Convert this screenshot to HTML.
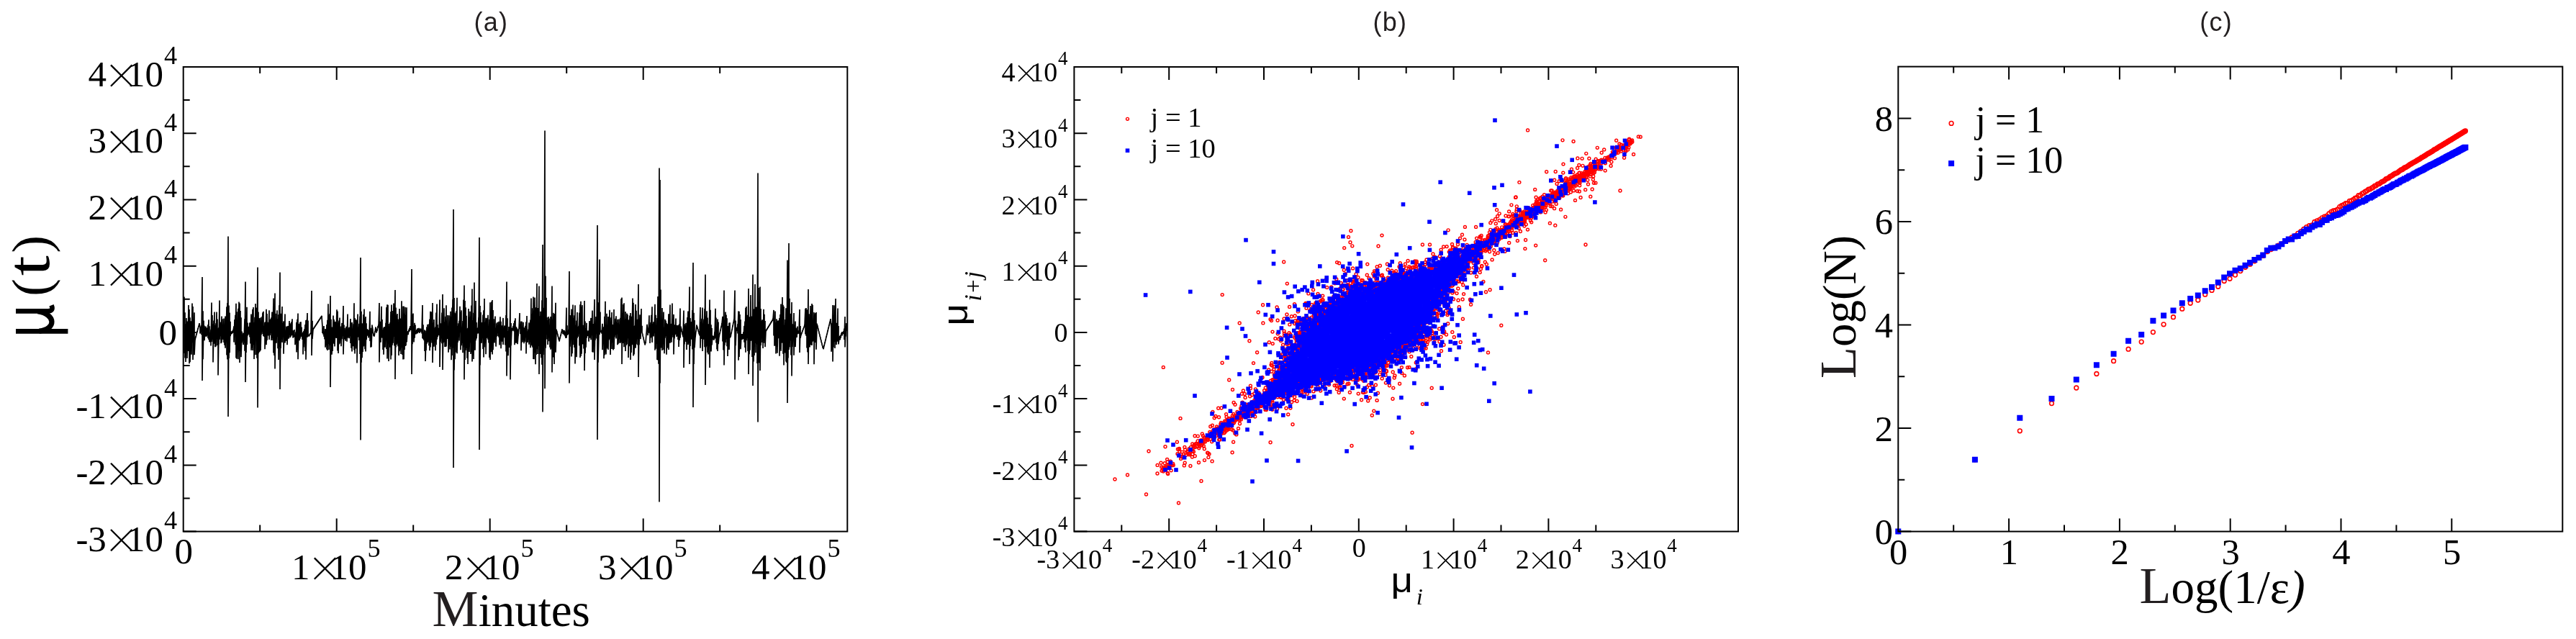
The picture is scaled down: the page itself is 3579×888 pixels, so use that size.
<!DOCTYPE html>
<html><head><meta charset="utf-8"><title>figure</title>
<style>html,body{margin:0;padding:0;background:#fff}svg{display:block;will-change:transform}text{font-family:"Liberation Serif", serif;fill:#000}.s{font-family:"Liberation Sans", sans-serif}</style>
</head><body>
<svg width="3579" height="888" viewBox="0 0 3579 888">
<rect width="3579" height="888" fill="#fff"/>
<text class="s" x="682.4" y="43.4" font-size="36" text-anchor="middle" letter-spacing="1.2" style="fill:#231f20">(a)</text>
<text class="s" x="1931.4" y="43.4" font-size="36" text-anchor="middle" letter-spacing="1.2" style="fill:#231f20">(b)</text>
<text class="s" x="3079.1" y="43.4" font-size="36" text-anchor="middle" letter-spacing="1.2" style="fill:#231f20">(c)</text>
<path d="M256 461.9L256 412.5V491.1L257 434.3V497.5L258 450.3V503.1L259 442V481.7L260 446.4V498L261 451.4V486.8L262 424V488L263 430V505.2L264 441.3V503.3L265 446.3V487.7L266 449.8V492.8L267 421.5V475.8L268 426V500L269 451.9V472.6L270 434.3V493.3L271 471.4V472.6L272 467.7V468.9L273 464V465.2L274 460.2V461.5L275 456.5V457.7L276 452.8V454L277 449.1V450.3L278 454.7V463.6L279 454V459.9L280 452V465.3L281 385V529L282 432.3V499.2L283 445.5V468.8L284 452.4V473.2L285 455.1V465.1L286 453.6V467.6L287 455.7V467.7L288 455.5V465.9L289 451.3V470.1L290 444.3V472.1L291 453.3V475.3L292 466.6V475.4L293 457.7V480.6L294 420.4V474.9L295 437.9V472.1L296 450.2V503.4L297 445.4V475.1L298 433.6V477.7L299 451.9V482.2L300 449.2V481.5L301 433.6V471.4L302 443.5V479.9L303 456.2V521.5L304 455V478.6L305 417.5V472L306 447.6V467.3L307 454.1V477.3L308 439.6V475.9L309 443.2V470.8L310 451.6V472.2L311 442.6V476L312 458.4V479.7L313 439.4V483.7L314 454V472.9L315 426.3V493.5L316 420.9V499.5L317 328.5V579L318 424.6V498.1L319 434.5V490.3L320 446.7V467.2L321 460.2V464.2L322 462.4V464.1L323 459.7V462.7L324 458.8V460.3L325 453.3V475.6L326 444V466.7L327 437.7V479.3L328 421.7V497.6L329 433.2V498.7L330 450.6V485.6L331 428.7V499.2L332 419.5V488.1L333 421.5V504.1L334 431.9V487.8L335 441.3V496.2L336 460.6V476.3L337 465.1V471.5L338 462.7V479.1L339 465.1V475.8L340 443.3V487.8L341 391.5V531L342 439.3V490L343 426.8V478.9L344 448.6V466.4L345 454.1V463.2L346 453.9V465.3L347 448.3V468.4L348 454.4V477.5L349 436.4V486.7L350 439.5V483.6L351 429.7V486.9L352 427V479.1L353 448.1V498.9L354 440.7V493.3L355 422.1V471.4L356 427.5V492.9L357 428.5V497.7L358 371.5V566.5L359 433.6V491.2L360 442V489.4L361 442.7V488.6L362 441.3V487L363 446.7V465.2L364 440.1V461.1L365 434.2V464.2L366 432.7V466.9L367 455.2V468L368 447.8V485.3L369 447.3V470.5L370 429.8V479.2L371 435.9V472.9L372 447.8V463.3L373 450.2V466.5L374 431.3V472L375 444.6V466L376 443.4V463.1L377 441.2V473L378 433.6V470.1L379 450.7V473.1L380 414.6V490.4L381 433V493.9L382 407.5V512.5L383 435.8V477L384 449.2V476.7L385 431.3V468.2L386 443.3V484.2L387 437V500.1L388 424.3V482.2L389 378.5V541L390 435.8V484.1L391 437.5V459.2L392 426.1V475.9L393 448.8V467.9L394 446.4V491.7L395 452V469.9L396 436.4V476.4L397 461.8V474L398 453.6V473.1L399 454V479.2L400 452.9V468.9L401 453.5V470.7L402 446.1V465.8L403 449.3V469.2L404 451.3V467.8L405 447.3V466.1L406 443.3V465.8L407 459V469.5L408 462.9V466.4L409 458.1V468.8L410 464.8V479.2L411 461.2V477.1L412 447.7V489.4L413 443.7V486L414 435.5V499.3L415 449.7V468.9L416 451V473.3L417 447.5V470.6L418 447.2V467L419 454.4V468.2L420 463.3V471.9L421 461.7V492.5L422 459.7V482.4L423 457.3V477.4L424 451V488.1L425 445.1V499.8L426 444.4V464.9L427 435.1V468.8L428 445.4V466.7L429 466.4V467.6L430 464.9V466.1L431 463.3V464.5L432 461.8V463L433 404V494L434 445.7V470.9L435 457.2V458.4L436 455.6V456.8L437 454.1V455.3L438 452.5V453.7L439 451V452.2L440 449.5V450.7L441 447.9V449.1L442 446.4V447.6L443 444.8V446L444 443.3V444.5L445 441.8V443L446 440.2V441.4L447 438.7V439.9L448 454.9V463L449 457.3V464.8L450 453.1V467.7L451 463.1V471.5L452 457V482.8L453 459.8V480L454 451.1V485.6L455 444.8V487.1L456 422.2V478L457 437.9V486.1L458 436V479.7L459 411V538L460 443.8V492L461 454.6V492.7L462 459.7V488.1L463 438.4V475.6L464 444.1V477.7L465 446.8V481.6L466 447.3V469L467 448.7V469.7L468 430.2V469.9L469 432.6V487.5L470 448.2V491.1L471 445.4V478.5L472 441.4V477.4L473 453.6V472.6L474 462.7V481.3L475 448.9V471.3L476 450.9V467.2L477 425V492.5L478 451.6V470.5L479 456V471.4L480 463.3V473.7L481 453.7V469.4L482 457.4V474.7L483 436.6V469.8L484 456.6V468.3L485 454.7V470.2L486 457.6V467L487 443V477L488 448.6V483.7L489 448.1V488.5L490 458.9V473.2L491 450.4V481.3L492 421.3V486.4L493 442V491.5L494 444.1V466.6L495 444.2V484.4L496 446.3V504.5L497 436.5V468.7L498 456V468.3L499 449.9V473L500 439.6V492L501 358V611.5L502 432.8V503.8L503 449.2V497.2L504 450.1V488.9L505 437V481.4L506 429.5V480.4L507 442.2V485.3L508 440V488.6L509 449.3V472.1L510 456.9V466.7L511 458.1V466.3L512 459.1V469.4L513 458.5V467.5L514 432.7V474.1L515 455.7V482.7L516 462.5V482.1L517 451.4V452.6L518 458.6V459.8L519 465.8V467L520 466.4V467.6L521 460.4V461.6L522 454.4V455.6L523 459.3V462.5L524 456.9V460.1L525 453.4V455.5L526 451.2V454.9L527 421V503.5L528 446.8V473.6L529 447.7V475.8L530 425.7V468.7L531 444V469.7L532 458.3V486L533 455.2V492.7L534 453.9V473.2L535 455.2V482.8L536 448.8V467.3L537 427V484.9L538 423.2V498.4L539 423.7V474.8L540 450V502.1L541 456.6V468.5L542 448.2V482.8L543 433.1V499.4L544 423.5V493.9L545 432.1V479.7L546 437V476.8L547 421.6V467.9L548 433.2V480.4L549 403V527L550 427.5V482.6L551 438.2V479L552 436.1V477.3L553 443.4V481.3L554 448.3V494L555 429V488.2L556 442.6V485.9L557 450.8V492L558 418.2V483.3L559 443.8V493.1L560 425.4V499.6L561 425.6V499.3L562 435.7V485.9L563 426.7V480.9L564 437.8V480.3L565 427.3V475.5L566 460.8V464.9L567 460.3V465.1L568 458.1V460.4L569 455.7V460.7L570 453V456.6L571 454.2V458.9L572 374V520L573 437.3V478.2L574 435.4V470.3L575 453.3V475.5L576 448.8V469.7L577 451.4V462.8L578 461.4V464.3L579 458.2V462.9L580 456.5V463.5L581 456.4V460.8L582 455.8V462L583 457.3V462.8L584 456.5V459.3L585 456.8V461.2L586 458.5V463.6L587 424V470.3L588 451.3V471.3L589 463.9V472.9L590 458.4V488L591 459.5V501.9L592 465.2V486.9L593 454.2V477.8L594 450.7V475.9L595 459.9V474.4L596 450.3V480.2L597 443.5V487.2L598 432.8V482.6L599 433.3V473L600 445.1V476.4L601 421V504L602 448.4V478.8L603 443.9V481.6L604 456.1V465.8L605 454.4V487.2L606 434.4V479.3L607 422.5V471.7L608 450.9V468.3L609 455.7V461.3L610 461.2V466.3L611 416.5V510L612 449.2V475.4L613 456.7V464.4L614 434.6V477.2L615 409V514L616 443.4V476.5L617 428.3V475.2L618 447.2V482L619 439.8V482L620 424.3V481.6L621 445.7V468.4L622 438.1V471.1L623 457.6V489.8L624 438.2V479.1L625 447.5V485.4L626 432.8V481.8L627 440.1V500.2L628 427.5V494L629 415.9V483.5L630 291V650L631 414.1V514.6L632 434.5V499.2L633 436.3V471.5L634 432.3V489.7L635 413.7V491.3L636 453V475.7L637 449.4V458.7L638 445.9V473.4L639 425.8V462L640 433.9V486.3L641 431.3V480.3L642 456.2V476.9L643 446V490.3L644 416.5V482.5L645 396.5V527.5L646 417.9V500L647 427.3V487L648 438.7V484L649 456.4V497.8L650 455.8V505.9L651 429V478.2L652 440.8V489L653 432.7V476.2L654 439.8V492.1L655 424.4V489.6L656 401.5V502.5L657 445V494L658 434.8V499L659 392.5V486.2L660 442.5V486.8L661 418.1V473.3L662 447.9V470.4L663 455.7V463.7L664 455.7V463.3L665 440.7V463.6L666 330V625L667 425V507.6L668 433.9V477L669 448.1V476.7L670 451.1V466.8L671 437.5V485L672 431.2V496.5L673 415V482.6L674 447.4V476.3L675 441.8V492.3L676 443.2V469.9L677 441.7V469.3L678 437.7V471.8L679 453.1V476.4L680 443.8V496.9L681 420.3V500L682 440.6V482.1L683 419V489.2L684 417V492.5L685 431.1V486.2L686 443.3V474L687 452.8V476.5L688 439.6V471.8L689 455.5V481.6L690 449.2V467.6L691 447.7V462.9L692 455.3V467.1L693 446.8V468.7L694 457.6V479.5L695 440.2V474.2L696 446.7V484.3L697 452.2V465.7L698 452.9V474.6L699 441.9V479L700 456.5V463.3L701 452.4V469.1L702 456.5V479.5L703 437.9V488.5L704 391.5V522.5L705 442.2V484.1L706 460V494.2L707 454V469.5L708 454.9V483L709 416.5V527.5L710 448.9V480.3L711 455.7V460.2L712 455.6V459.6L713 453.1V458.6L714 449.2V460.4L715 445.6V479.2L716 442.3V476.1L717 453.9V476.9L718 455.5V475.2L719 457.3V478.3L720 465.6V466.8L721 456.1V457.3L722 435V456.5L723 454.4V464.3L724 446.5V487.3L725 446.8V475.9L726 456.7V472.3L727 447.8V475.2L728 454.9V477.2L729 456V475L730 452.9V467.3L731 447.2V491.5L732 439V470.3L733 460.3V475.9L734 457.6V472.2L735 448.3V478.8L736 451.2V475.6L737 444.6V483.3L738 414.6V478.9L739 436.4V480.4L740 428.2V482.7L741 412.6V498.9L742 431.5V499.3L743 413.4V490.2L744 427.3V506.3L745 431.6V492.9L746 394V484.7L747 428.1V491.9L748 437V481L749 397.5V520L750 439.3V482.1L751 432.8V492L752 439.9V497.3L753 417.3V506.8L754 340V572.5L755 427.8V492.9L756 445.7V459.7L757 181.5V540L758 383.4V483.8L759 413.7V464.7L760 441V471.6L761 444.9V479L762 439.9V469.4L763 442.5V474.3L764 455.5V482.7L765 440V485.8L766 440.6V484.4L767 397.5V517.5L768 443.9V477.5L769 434.8V496.6L770 436.1V506.1L771 436.2V475.9L772 420.8V489.7L773 457.4V458.6L774 461.4V462.6L775 465.4V466.6L776 469.4V470.6L777 473.4V474.6L778 469.4V470.6L779 465.3V466.5L780 461.3V462.5L781 457.2V458.4L782 459.1V464.2L783 458.8V464.5L784 459.1V465.7L785 460.6V466.4L786 468V469.9L787 427.5V469.8L788 452.3V465.9L789 460.1V465L790 457.5V464.2L791 377V532.5L792 438.1V481.7L793 447.6V468.9L794 429.5V495.4L795 435.1V491.2L796 423.6V469.9L797 441.8V479.2L798 438.3V482.9L799 424.3V505.4L800 451.4V482.8L801 445.4V496.3L802 434V469.9L803 454.1V468L804 452.8V463.4L805 434.6V480.6L806 423.2V497.1L807 418.7V495.1L808 426.4V491.8L809 424.1V478L810 451.7V478.6L811 461.1V484.6L812 418V515L813 446.4V491L814 456.1V482.7L815 448.7V469.7L816 459.3V467L817 460.8V466.7L818 459.3V474.6L819 446V469.6L820 454V469.5L821 441.9V472.2L822 442.5V466.2L823 431.5V489.2L824 449.9V489.8L825 453V462.4L826 416V500L827 449.1V472.6L828 440V463.7L829 445.9V470.5L830 313V611L831 420.2V503.7L832 461.1V465.9L833 360.5V465L834 433.5V461.4L835 459.5V462.3L836 459.1V463.8L837 449.8V486.3L838 455.6V471.7L839 454.1V498.3L840 439.7V493.6L841 418.8V489.8L842 451V492.5L843 435.8V482.7L844 451.7V484.4L845 440.1V486.1L846 446.8V472.5L847 430.7V470.8L848 441.2V492.9L849 447.6V484.9L850 434.1V476.3L851 451.1V485L852 456.1V486.4L853 430V485L854 449.5V468.4L855 442.8V465.5L856 439.3V470.5L857 447.4V462.7L858 443.7V479.3L859 448.9V477.6L860 443.6V471.3L861 453.8V476.7L862 441.7V476.8L863 415.3V475.3L864 413.5V506L865 435V474.3L866 423V477L867 421.3V482.3L868 451.3V474.9L869 433V488.1L870 442.9V479.9L871 435.4V478.4L872 437.3V470.1L873 444.2V497L874 445.3V476.5L875 438.4V481.2L876 435V500L877 439.8V490.1L878 446.5V464.5L879 414.4V479.2L880 420.8V494.5L881 452.9V492.6L882 452.2V470L883 422.9V483.8L884 431.8V478.5L885 443.7V471.1L886 450.3V479.6L887 395V524L888 443.2V479.3L889 437.3V466.5L890 443.8V471.3L891 429V457.8L892 452.7V462.1L893 465.2V466.4L894 469.5V470.7L895 473.9V475.1L896 478.2V479.4L897 475.8V477L898 463.3V464.5L899 450.8V452L900 460.9V466.1L901 457.5V462.2L902 438.2V462.7L903 451.3V476.9L904 448.1V469.4L905 437.8V468.5L906 426.3V475.9L907 449.9V466.4L908 447.3V467.5L909 447.3V463L910 422.7V486.7L911 437.7V484.8L912 452V477.9L913 441.9V499.9L914 412V500.6L915 431.4V505.7L916 233.5V697.5L917 250V532.5L918 402.6V481.7L919 444.9V483.4L920 428.1V487L921 454.8V470.6L922 433.6V485.9L923 455.3V491.2L924 443.8V469.8L925 445.5V467.1L926 448.7V492.8L927 450.3V483.8L928 460.9V482.8L929 436.3V485.9L930 450V468.7L931 423.6V476.7L932 450V471.4L933 449.7V475.7L934 421.5V465.6L935 450.6V468.7L936 436.9V492.5L937 451.3V470.5L938 451.8V465.2L939 442.5V464.3L940 452.1V467.9L941 452.1V467.1L942 452.5V472.1L943 451.6V482L944 450.3V473.1L945 428.5V469.8L946 453.6V454.9L947 458.1V459.4L948 462.6V463.9L949 467.1V468.4L950 431.5V511L951 450.2V478.5L952 452.7V472.1L953 448.7V475.1L954 456.1V486L955 440.9V473.5L956 432.4V478.9L957 455V477L958 398.5V506.1L959 441.9V481L960 447V468.8L961 453.4V471.7L962 431V485.6L963 365V566L964 434.8V505.9L965 445V483.1L966 467.8V469L967 459.6V460.8L968 451.4V452.6L969 454.9V456.1L970 458.4V459.6L971 461.9V463.1L972 465.4V466.6L973 427V483.7L974 448.3V465.4L975 442.8V471L976 427.5V487.9L977 450.8V465.6L978 443.5V471.8L979 428.9V482.3L980 381.5V535L981 439.4V482.4L982 432.3V480.8L983 441.4V490.1L984 450.3V492.6L985 450.2V473.3L986 416.5V511L987 430.8V475.7L988 451.3V488.4L989 455.9V479.5L990 466.2V469.8L991 466.9V471.9L992 469.4V472.7L993 460.8V470.7L994 428.7V469.6L995 441.4V476.4L996 454.1V485.4L997 443.4V488L998 447.4V478.2L999 467.4V468.6L1000 462.9V464.1L1001 458.4V459.6L1002 453.9V455.1L1003 449.4V450.6L1004 439.8V474.6L1005 446.4V486.5L1006 403.5V507.5L1007 445.6V479.8L1008 433.4V476.1L1009 437.5V471.4L1010 442.3V481.2L1011 452.9V495L1012 452.9V481.9L1013 448.5V485.9L1014 448.2V469.3L1015 467.4V468.6L1016 462.5V463.7L1017 457.6V458.8L1018 452.7V453.9L1019 447.8V449L1020 442.8V444L1021 403.5V527.5L1022 445.6V480.3L1023 455.1V458.9L1024 456.4V460.2L1025 450.4V463.5L1026 432.4V500.8L1027 432.8V496L1028 437.1V481.2L1029 443.9V485.3L1030 464.1V470.3L1031 464.1V471.9L1032 466.8V470.8L1033 461.3V471.3L1034 452.9V475.8L1035 446.5V482.9L1036 427.8V489.7L1037 425.9V473.3L1038 437.8V470.1L1039 446.8V487.9L1040 401V520L1041 440.2V492.2L1042 450.9V486.8L1043 410V473.9L1044 439.5V472.9L1045 449.5V495.9L1046 381.5V536L1047 429.8V502.6L1048 429.2V493.9L1049 395V477.1L1050 426.9V490.2L1051 426.4V478.6L1052 439V505L1053 240.5V586.5L1054 399.9V496.8L1055 419.7V504.2L1056 398.5V515L1057 429V480L1058 446V467.7L1059 444.3V476L1060 447.1V484L1061 429.7V473.5L1062 436.8V476.7L1063 446V482.1L1064 459.6V460.8L1065 457.9V459.1L1066 456.3V457.5L1067 454.6V455.8L1068 453V454.2L1069 451.3V452.5L1070 449.7V450.9L1071 448V449.2L1072 446.4V447.6L1073 444.7V445.9L1074 443.1V444.3L1075 430.9V466.4L1076 450.5V480.8L1077 432.5V480.4L1078 448.1V491.5L1079 443.3V482L1080 445.5V490.7L1081 445.4V468.7L1082 445.3V470.1L1083 442V494.7L1084 436.9V484.8L1085 422.5V487.7L1086 431.7V476.8L1087 413V476.2L1088 423.7V491.8L1089 426V507.5L1090 451.5V486.4L1091 444V490.6L1092 428.3V502.4L1093 431.9V503.9L1094 361.5V560L1095 433.8V497.5L1096 338V486.1L1097 414.8V482.6L1098 435.7V473.4L1099 452.2V493.6L1100 420V522.5L1101 450.2V482L1102 451.8V465.9L1103 435V493.8L1104 452V469.9L1105 446.5V482.1L1106 455.4V465.1L1107 458V469L1108 453.5V464.1L1109 459.2V461.5L1110 460.3V464.1L1111 430V490L1112 453V469.8L1113 464.7V465.9L1114 462.1V463.3L1115 459.4V460.6L1116 456.7V457.9L1117 454.1V455.3L1118 451.4V452.6L1119 428.9V464.6L1120 428V466.8L1121 430.3V483.5L1122 439.7V489.4L1123 402V506L1124 436.2V480L1125 451.4V482.6L1126 425V478.9L1127 444.9V479.4L1128 422V480L1129 423.7V474.7L1130 451.4V473.8L1131 433.9V506.2L1132 436.5V470.4L1133 435.1V476L1134 433.9V485.8L1135 449.4V450.6L1136 453.4V454.6L1137 457.5V458.7L1138 461.5V462.7L1139 465.5V466.7L1140 469.6V470.8L1141 473.6V474.8L1142 477.6V478.8L1143 481.7V482.9L1144 484.1V485.3L1145 480V481.2L1146 475.9V477.1L1147 471.8V473L1148 467.7V468.9L1149 463.6V464.8L1150 459.5V460.7L1151 455.4V456.6L1152 451.3V452.5L1153 447.2V448.4L1154 443.1V444.3L1155 455.1V488.7L1156 449.2V486.2L1157 423.9V502.5L1158 438.1V482.7L1159 424.2V475L1160 437.9V483.9L1161 415V474.8L1162 448.8V479.1L1163 453.4V474.4L1164 428.4V474.7L1165 452.9V478.5L1166 468.3V471.1L1167 466.7V472.5L1168 465.5V469.7L1169 462.7V465.2L1170 461.3V466.4L1171 461.3V463.4L1172 460.4V464.1L1173 456.6V472.1L1174 440V482.5L1175 455.8V467.7L1176 449.1V459.9" fill="none" stroke="#000" stroke-width="1.7" stroke-linejoin="bevel"/>
<rect x="254.7" y="93" width="922.6" height="645.6" fill="none" stroke="#000" stroke-width="2"/>
<path d="M467.7 738.6v-18M467.7 93v18M680.7 738.6v-18M680.7 93v18M893.7 738.6v-18M893.7 93v18" stroke="#000" stroke-width="2" fill="none"/>
<path d="M361.2 738.6v-9M361.2 93v9M574.2 738.6v-9M574.2 93v9M787.2 738.6v-9M787.2 93v9M1000.2 738.6v-9M1000.2 93v9" stroke="#000" stroke-width="2" fill="none"/>
<path d="M254.7 93h18M254.7 185.2h18M254.7 277.5h18M254.7 369.7h18M254.7 461.9h18M254.7 554.1h18M254.7 646.4h18M254.7 738.6h18" stroke="#000" stroke-width="2" fill="none"/>
<path d="M254.7 139.1h9M254.7 231.3h9M254.7 323.6h9M254.7 415.8h9M254.7 508h9M254.7 600.3h9M254.7 692.5h9" stroke="#000" stroke-width="2" fill="none"/>
<text y="120" font-size="51"><tspan x="122.4">4</tspan><tspan x="175.9">10</tspan><tspan x="227.9" dy="-30.6" font-size="36.2">4</tspan></text>
<path d="M154 90.4l29.4 29.4M154 119.8l29.4 -29.4" stroke="#000" stroke-width="2.3" fill="none"/>
<text y="212.2" font-size="51"><tspan x="122.4">3</tspan><tspan x="175.9">10</tspan><tspan x="227.9" dy="-30.6" font-size="36.2">4</tspan></text>
<path d="M154 182.6l29.4 29.4M154 212l29.4 -29.4" stroke="#000" stroke-width="2.3" fill="none"/>
<text y="304.5" font-size="51"><tspan x="122.4">2</tspan><tspan x="175.9">10</tspan><tspan x="227.9" dy="-30.6" font-size="36.2">4</tspan></text>
<path d="M154 274.9l29.4 29.4M154 304.3l29.4 -29.4" stroke="#000" stroke-width="2.3" fill="none"/>
<text y="396.7" font-size="51"><tspan x="122.4">1</tspan><tspan x="175.9">10</tspan><tspan x="227.9" dy="-30.6" font-size="36.2">4</tspan></text>
<path d="M154 367.1l29.4 29.4M154 396.5l29.4 -29.4" stroke="#000" stroke-width="2.3" fill="none"/>
<text x="246" y="479.2" font-size="51" text-anchor="end">0</text>
<text y="581.1" font-size="51"><tspan x="105.4">-1</tspan><tspan x="175.9">10</tspan><tspan x="227.9" dy="-30.6" font-size="36.2">4</tspan></text>
<path d="M154 551.6l29.4 29.4M154 580.9l29.4 -29.4" stroke="#000" stroke-width="2.3" fill="none"/>
<text y="673.4" font-size="51"><tspan x="105.4">-2</tspan><tspan x="175.9">10</tspan><tspan x="227.9" dy="-30.6" font-size="36.2">4</tspan></text>
<path d="M154 643.8l29.4 29.4M154 673.2l29.4 -29.4" stroke="#000" stroke-width="2.3" fill="none"/>
<text y="765.6" font-size="51"><tspan x="105.4">-3</tspan><tspan x="175.9">10</tspan><tspan x="227.9" dy="-30.6" font-size="36.2">4</tspan></text>
<path d="M154 736l29.4 29.4M154 765.4l29.4 -29.4" stroke="#000" stroke-width="2.3" fill="none"/>
<text x="255.2" y="782.6" font-size="51" text-anchor="middle">0</text>
<text y="805" font-size="51"><tspan x="405.1">1</tspan><tspan x="458.6">10</tspan><tspan x="510.6" dy="-30.6" font-size="36.2">5</tspan></text>
<path d="M436.8 775.4l29.4 29.4M436.8 804.8l29.4 -29.4" stroke="#000" stroke-width="2.3" fill="none"/>
<text y="805" font-size="51"><tspan x="618.1">2</tspan><tspan x="671.6">10</tspan><tspan x="723.6" dy="-30.6" font-size="36.2">5</tspan></text>
<path d="M649.8 775.4l29.4 29.4M649.8 804.8l29.4 -29.4" stroke="#000" stroke-width="2.3" fill="none"/>
<text y="805" font-size="51"><tspan x="831.1">3</tspan><tspan x="884.6">10</tspan><tspan x="936.6" dy="-30.6" font-size="36.2">5</tspan></text>
<path d="M862.8 775.4l29.4 29.4M862.8 804.8l29.4 -29.4" stroke="#000" stroke-width="2.3" fill="none"/>
<text y="805" font-size="51"><tspan x="1044.1">4</tspan><tspan x="1097.6">10</tspan><tspan x="1149.6" dy="-30.6" font-size="36.2">5</tspan></text>
<path d="M1075.8 775.4l29.4 29.4M1075.8 804.8l29.4 -29.4" stroke="#000" stroke-width="2.3" fill="none"/>
<text x="600.6" y="869.7" font-size="72" style="fill:#231f20">M<tspan font-size="65" style="fill:#000">inutes</tspan></text>
<g transform="translate(75.5 463.7) rotate(-90)" fill="none" stroke="#000" stroke-width="6.7"><path d="M3.35 -53.5V18.9"/><path d="M31.35 -53.5V-9Q31.35 -0.5 39.5 -4" stroke-linejoin="round"/><path d="M3.5 -21C6 2.6 27 2.6 31 -23" stroke-width="7.2"/></g>
<g transform="translate(67.8 471) rotate(-90)"><text x="59.3" y="0" font-size="74">(</text><text transform="translate(87.7 0) scale(1.2 1)" font-size="84">t</text><text x="119.3" y="0" font-size="74">)</text></g>
<defs><marker id="mr" markerUnits="userSpaceOnUse" markerWidth="8" markerHeight="8" refX="4" refY="4"><circle cx="4" cy="4" r="1.95" fill="none" stroke="#f00" stroke-width="1.45"/></marker><marker id="mb" markerUnits="userSpaceOnUse" markerWidth="8" markerHeight="8" refX="4" refY="4"><rect x="1.2" y="1.2" width="5.6" height="5.6" fill="#00f"/></marker></defs>
<g transform="translate(1492 93)" fill="none" stroke="none">
<path d="M488.1 303.9L718.7 142.5" stroke="#f00" stroke-width="5" stroke-linecap="round"/>
<path d="M316.7 424.3L213.9 496.2" stroke="#f00" stroke-width="4" stroke-linecap="round"/>
<polyline points="531.1,270.7 546.1,257.7 405.4,411.2 284.5,439.7 245.6,474.4 461.9,299.6 447,389.8 442.3,403.1 475.5,356.5 279.2,430.3 432.1,299.5 402.2,411.2 439.5,294.7 356.2,342.6 451.7,387.8 291.2,436.5 486.4,355.4 471.6,288 379.9,328.6 323,335.2 341,430.6 475,382.6 389.3,417.7 455.6,290.2 283.1,352.3 522.2,288.9 367.2,318 396.7,307.5 380.6,420 424.4,306.3 436.2,281.7 486.1,346.8 468.8,380.5 416.1,406.3 301.1,421.1 286.5,432.9 319.8,382.9 454.4,393.7 311.8,353 328.3,361.5 515.9,299 370.4,428.1 402.6,314.8 439.8,407.2 505.7,336.6 332.5,435.6 413.1,316.6 458.2,296.4 548.3,267.7 440.1,400.6 302.4,396.4 273.1,472.9 396.8,411.9 503.4,284.4 531.6,286.6 338.8,359.7 510.5,394.7 531.7,272.8 522.4,302.3 333.1,346 294.7,423.6 485.4,383 222.1,466.4 471,393.7 350.4,434 296.8,453 491.1,349 400.2,311.9 451.8,384.3 282.3,437.2 448.9,385.3 464.2,370.2 519.3,299.4 355.5,432.5 334.4,356.3 470.3,381.8 392.2,311.7 494.5,324.5 460,382.8 437.5,394.6 508.6,284 492.1,322.2 503.3,333.2 314.4,372.6 469.5,368.2 410.1,423.7 346.8,342 506.9,311.8 477.4,285.9 380.4,303.7 311.8,447.9 484.6,282.2 291.8,437.3 429.6,399.8 562.2,268.8 480,355.7 463.5,296 467.6,358.6 487.8,287.6 423,403 399.9,312 335.9,360.6 455.7,425.6 474,366.6 394.9,292.5 461.6,379.9 369.9,429.8 215.2,503.5 495.7,320.9 335.5,353.9 393.5,413.9 384.1,416.3 466.5,294 459.6,299.4 506.5,318.4 392.1,287.9 409.7,305.1 325.9,314.9 283.1,458.7 334.4,340.9 545.3,281.1 378,322.5 467.1,359.1 524.9,304.2 291.3,447.2 421.4,406.5 424,311.7 532.4,271.2 442.5,396.1 380,440.7 572.5,312.7 406.7,308.6 419.8,294.2 398.3,415.4 461.3,392.9 456.5,393.5 279.9,377.4 385.5,322.5 351.6,346.1 398.8,308.7 309.2,380 463.8,372.8 487.3,283.7 228.5,502.4 312.8,441.8 392.4,434.7 507.6,314 532,287.6 497.5,324.6 562.1,256.6 396.3,421 326.7,361 427.9,402.9 314.5,438.1 406.6,315.9 386.2,321.1 532.4,291 455.7,390.4 339.1,349.2 289,450.1 271.1,468.2 381.9,440.2 575.5,396.9 497.7,338.1 388.1,309.7 514,303 246.6,482.1 504.7,279.8 467.9,376.9 541.9,270.7 365.7,327.7 375.2,421.3 274.1,452.4 515.7,313.9 466.4,286.9 338,362.1 402.6,414.7 356.1,343.8 535.9,271.5 514.7,367.6 298.9,426 307.3,374.2 292.1,367.3 278.9,435.8 391,415.8 405.3,308.2 412.7,408.1 378.8,329.8 308.5,453.7 558,252.1 355.5,427.3 168.1,512.8 341.2,360.4 503.9,349.2 382.6,317.4 274.8,443 454.5,387.3 441.1,391.3 456.6,384.2 421.3,317.4 548.7,261.9 431.8,298.8 364.9,332.4 299.4,420.1 307.6,352.6 331.4,356.7 470.1,508.2 278.3,416.9 530.8,251.9 469.1,376.8 384.3,414.6 399.6,462.7 330.3,348.2 298.8,423.4 272.7,443.2 386.4,313.6 494.8,284.9 322,383.6 406.1,314.2 334.1,348.8 425.9,300.7 527.4,262.2 462,386.3 458.3,292.1 309.1,437.4 527.4,288.4 380.7,418.7 409,303.8 516.6,339 319.2,372.8 402.3,308.7 472.8,382 272.9,463.7 312.6,389.9 516.1,304.6 523.7,269.4 463.8,388.1 444.5,384.8 429.5,406.8 454.9,299 309.3,378.2 489.9,371.4 467.5,279.1 459,298.9 425.7,401.1 362.2,442.8 415.7,302.8 296,417.8 340.6,358 312.3,436.8 392,425.8 294,425.8 419.7,311.2 284.7,377.9 443.7,384.6 442,294.1 386.7,419.9 489.6,362.8 409.7,313 309.3,356 311.7,444.3 295.8,374.4 393.4,411.2 521.8,340.2 328.4,371.5 310.6,400.8 421.2,316.6 407.3,318 477.8,374.8 539.5,265.7 316.9,447.4 430.3,293.4 295.2,415.4 281.9,436 426.3,408.1 320.9,370.8 287.4,429.7 475.2,364.2 284.2,438.5 408.2,317.4 412.9,308.6 348.1,342.1 340.8,343 522.7,292.7 364.8,295 495.2,321.4 472.9,363.8 497,321.6 445.9,302.1 329.7,437.4 540.4,350.3 404.8,416.1 447.8,388.9 322.1,372.8 560.1,279.6 575.4,250.3 320.5,353.8 398,421.2 442.8,402.5 328.8,369.9 403.5,418.3 458.9,397.3 435.2,302.8 429.4,425.7 512.6,300.3 473.7,290.9 501.6,281.4 313.4,400.8 449.9,388 553.4,262.2 538.1,277 431.4,307.3 343.5,357.1 508.2,316 525,294.6 508.2,313.6 496.3,329.5 421.2,277.8 537.6,283 403.7,311.7 386.3,319.4 448.1,290.5 309.2,383.2 401.9,308.4 273.3,447.8 453.3,272.7 315.5,396.5 525.7,297.6 338.8,346.1 540.7,276.3 448,386.4 287.9,455.4 510.7,316.5 522.6,254.8 358,337.4 340,362.3 310,464.5 412.5,418 306.4,395.1 372.7,435.6 339,315.5 343.8,351.8 484.4,247 468.9,293.5 477.4,377.9 399.7,411.7 347.4,434.7 539.3,294.6 310.6,436.3 342.8,362.1 419.7,410.5 356.2,331.9 500.2,317.4 521.3,288.1 353.1,426.9 387,431.1 447.1,299.8 536.6,238.1 564.5,248.7 343.5,359.3 286.8,433.1 316.2,454.9 397.6,311.6 418.4,285.7 489.8,367.4 360.8,319.2 481.1,357.8 271.8,447.2 505.7,274.6 459.4,428.9 476,272 318,363.5 230.2,356 352.7,336.8 488.7,355.6 459.7,287 387.8,312.3 289.4,453.8 551.5,325 314.6,439.7 482.6,356.9 306.7,356.8 475.3,411 289.4,437.7 407.8,274.1 357.2,436.2 312.9,369.6 409,316.6 491,335.3 493.8,278.9 401.1,320.6 409.7,309.1 342.9,435.1 410.1,309.3 524.8,288.6 259.9,471.5 543.4,260.1 491.9,321.9 470.1,365.9 336.4,329.9 230,491.1 509.9,321 384,317.1 414,311.1 314.5,387.8 384.9,227.7 302,413.4 475.5,360.5 490.7,334.7 416.9,419.6 288.1,417.2 299.6,333.4 544.5,269.3 353.3,432.2 319.2,451.4 486,340.4 245.9,470.6 492.1,327.6 277.1,444 368.6,431.8 384,323.4 260,458.7 506.6,309.8 286.3,440.6 431.6,419.1 523.7,294 383.1,432.1 374.3,317.6 552.1,258.1 536,270.5 462.6,375.4 325.9,373.4 385.3,305 452,385.8 469.6,370.1 477.3,365 306.7,458.7 303.3,398.9 391.6,317.7 327.1,359.5 274.1,414.1 504.5,277.2 433.6,415.1 313.2,396.2 494.6,280.5 384.5,418.7 461.9,294.2 445.7,296.5 404.1,301.6 278.9,445.8 498.3,284.2 559,253.5 524.5,343.1 338.2,354.3 387.5,296.2 278.4,427.8 511.2,311.7 494.8,378.7 471.4,361 403.5,300.9 256.2,341 498.4,331.3 470.8,362.1 358,428.7 538.4,289.3 402.6,319.6 476.6,284.9 420.6,414.3 451.8,385.8 256,464.9 560.2,270.7 411.6,410.1 481.4,369.3 416.6,314 364.7,442.8 512.2,297.6 516.8,323 351,343.1 521.3,335.4 492.7,334.2 220.2,492.7 461.5,372.1 508.3,306.3 500.9,322.8 443.8,388.4 482.3,379.2 320.6,440.4 533.5,246.7 501.8,326.4 399.6,420.3 478.5,358.7 428.5,298.7 388.1,300.1 322.2,451.6 314.8,364.8 321.9,373.9 482.6,283.7 540.8,303.1 400.9,414.6 420,422.9 294.2,405.8 458.1,285.3 228.3,489.2 415.5,315.7 318.6,392.5 495.8,350.5 521.6,291.2 327.9,366.1 453.1,279.5 397.7,301.8 492.9,329.4 294.4,425.7 376.4,320.7 311,387.3 512.8,275.3 495,333.5 405.3,320.7 360.6,427.8 402.6,419 341.4,326.6 468.9,377.4 384.2,433.3 312.3,353.5 318,379.4 466,417.4 453.2,389.9 561.4,266.3 397.1,316.9 336,345.7 391.5,314.5 510.9,310.9 296.9,405 546.9,270.7 548,272.5 500.1,337.3 321.9,446.6 317.4,387.5 399.6,296.4 586.6,239.2 376.3,420.7 462.8,292.9 440.2,389.7 433,428.3 394.2,414.9 535.2,291.6 327.3,356.6 509.5,274.4 355.5,342 490.2,368.5 428,234.1 354.7,332 548.6,269.4 323.1,369.2 534.7,270.9 527.9,295.4 292.6,434.2 485.9,354.6 513.4,324.2 428.2,433 337.1,359.4 520.9,302.7 476.9,359.9 540.9,267.5 384.9,427.7 343.3,339.2 296.6,394 342.4,344.3 469.1,358.1 336.4,341.6 428.1,302.6 284.3,450.5 464.3,284.2 272.9,453.1 322.7,368.2 409.7,442.2 417.2,316.2 377.9,324 479.5,285.2 428.4,415.9 263.8,455.3 571.3,271.2 312.7,438.2 380.7,322.2 493.1,326.2 509.9,275.2 419.7,406 315.5,354.8 540.1,323 284.2,452.5 456.9,396.1 486.1,340.6 359.8,424.3 317.3,457 394.3,415.9 345.4,347.8 468.3,371.9 460.1,395.4 315.1,397.3 443.2,424 394.4,427.7 421.1,463.4 509.7,326.2 370.6,332.9 450.3,393.1 404.2,317.6 406.5,415.8 338.9,444.2 282.5,436.7 264.6,449.6 515.1,300.1 368.5,321.4 548.4,265.5 458.3,388.1 318.4,384.9 478.2,372.7 646.2,199.2 500.6,324.4 432.4,413.6 376.8,421.8 303.9,389.1 261,467.9 480,363.8 477.8,289.2 311.4,339.9 544.9,278.3 568.9,298.5 476,373.8 451.1,298 395,317.2 354.7,343.8 453.1,287.1 322.3,329.5 471.3,290.9 449.3,296.7 489.3,334.9 510.2,313.4 413.2,313.1 465.5,375.8 331.3,359 473.5,358.7 406.9,304.3 421.4,410.1 390,416.6 369.7,334 475.4,419.8 331.3,436.7 451.7,381.9 379.2,305.9 411.6,428.2 462.5,297.9 499.4,315.4 327.5,364.9 489.1,391 505.1,284 493,286.7 281,450.3 539.5,233.2 272.6,458.2 280.5,452.8 517.6,268.9 367.4,333.1 273.1,350.7 496.6,319.1 546.1,247.3 466.6,373.8 417.1,291 432.3,404.2 259.6,469.3 322.5,364.8 407.2,312.9 356,430.4 494,327 550.5,323.2 498.2,374.5 375.3,325 475.5,277.8 424.1,406.7 470.5,375.7 349.2,347.5 250.9,453.7 518.1,249.6 497.4,345 493.6,355.8 418,316 538.4,271.9 400.8,419.9 335.9,328 511.1,266.3 410.4,411.9 551.1,255.6 262.6,330.8 276.2,384.6 507.9,381.8 546.9,268.9 401.7,411.5 400.2,417.9 498.9,319.3 296.3,301.1 332.6,309.7 457.1,291.7 379.2,326.3 576.7,245.4 353.5,339.9 498.8,339.4 313.1,441 309.7,373.3 355,340.3 434.8,304.4 345.6,435.2 311.7,377.2 290.4,422.5 380.5,312.8 425.1,427.3 462.8,390.1 435.4,273.9 502.5,278.8 513.3,308.9 497.2,367.5 365.4,447.8 323.3,359.1 423.1,404.8 499.8,282.1 453.2,382.2 477,355.2 460.9,296.3 298.5,449.9 319.1,379.9 376.6,315.6 412,313.2 338.8,334 487.8,271.6 468.7,363.7 542.8,255.1 418.2,416.1 427.3,406.6 539.9,268.5 462.2,369.1 583.2,236 492.3,323.7 417,407.9 462.2,287.3 500.5,332.9 266,476.4 505.5,275.7 313.4,397.6 338.9,342 470.6,386.2 318.8,442.1 419.6,411.8 486.1,371.8 460.6,388 381.1,319.9 505.4,320.1 315.3,382.8 508.9,312.8 493.6,335.2 466.1,395.8 346.1,430.3 458.3,278.6 387.1,318.3 369.2,331.3 573.3,254.2 368.6,272.8 295.9,344 328,434.1 483.5,361.8 502.4,280.6 353.7,339 302.5,386.6 473.3,385 473.2,368.4 449.7,392.8 367.7,330.3 340.4,435.2 285,414.4 485.9,286.1 505,324.8 427.6,307.7 335.9,359 535.3,333.8 487.3,347.3 536.1,271.6 365.2,428.3 547.7,282.1 447.4,301.9 497.2,326.4 338.5,361.6 469.8,361.1 540.8,289 288.2,410.6 242.2,474 299.4,409.6 386.6,422.7 384.3,425.3 308.9,436.7 315,392.3 391.6,433.1 531.1,266.1 408.4,414.3 277.9,419.9 404.5,314.8 388.4,421 290.7,413.6 394.7,435.1 368.8,423.8 296.2,381 397.1,423.4 367.2,335.2 475.7,370.1 431.2,412.3 502.5,324.9 528.3,375.5 538.5,278.7 472.2,366.8 299.8,357.9 470.7,367.2 538.5,288.4 314.2,390.6 288.1,451.6 555.6,256.2 328.3,366.5 544.4,279.4 345.3,433.9 472.3,372.1 367,432.4 428.9,305 521.3,257.1 505.3,281.6 481.4,290.1 417.3,310.9 453.9,400.1 523.8,296.7 465.6,371.4 470.5,363.6 403.1,318.6 407.8,418.9 398.1,315.5 397,309.3 514,386.2 516.5,301 457.9,386.2 508.4,262.9 564.2,285.6 308.5,386.4 381.5,236.4 442.8,292.3 473.2,354.2 282.5,475.2 519.8,342.2 490.5,338.3 285,436.5 374,309.2 252.7,462.9 520.4,305.2 480.8,379.6 453.6,384.4 474.6,357.1 502.2,319.1 343.3,325 315.5,394.2 502.1,326.4 522.1,290 348.8,340.7 495.2,282.6 393.8,442.1 349.5,343.5 513.6,269.8 440.2,304.3 477.5,354.6 299.8,401.1 290.3,457.7 480.8,361.8 473.7,362.7 503,335.8 278.2,455.4 275,471.6 455.2,383.7 389.5,297.9 351.5,347.1 275.6,464.1 471.9,378.4 460.5,273.9 446.3,288.7 419.5,307.4 325.2,366.7 437.3,405 328.8,368.9 296.2,385.4 423.6,408.2 456.3,286.7 468.6,360.8 381.9,423.3 476.6,375.9 395.9,411.3 467.1,372.8 445.2,432 275.3,415.1 478.5,284.3 484.5,468.6 464,383 262.1,458 520.3,313.2 335.3,350.3 292.6,401.3 453.6,292.2 507.1,278.7 546.9,273.3 525.1,292 339.7,432.2 272.5,451.6 347.9,444.5 502.9,369.4 343.6,355 295.4,409.5 306.2,399.4 396,418.2 484.7,279.2 381.8,425.9 495.1,376.5 483.7,384.9 418.6,303.4 393.8,301.1 357.1,428.4 330.4,460 370.2,434.4 332.6,438.1 305.6,444.2 316.8,394.5 416.8,478.1 326.2,374.3 417.2,306.8 451.4,296.7 534.8,265.6 328.1,360 474.1,375.5 488.1,274.6 286.2,411.2 533.8,308 449.5,383.6 371.2,319.6 565.3,237 314.6,369.7 527.7,260.7 443.2,399.3 311.2,396.6 573.9,252.7 424.5,303.8 431.6,410.9 575.6,244.2 308.2,400.5 392.4,420.6 450.6,299.4 516.1,306.1 459.3,384.6 430.7,304.7 346.3,344.1 386.9,415.2 238.1,459.5 520.4,269.9 526.5,250.3 466.7,370.2 453.5,387.8 259,464.9 311.9,402 242.5,469.5 382.5,312.6 337.5,354.5 306.8,389.9 513.8,313.8 382.9,428.1 481.4,284.1 507.8,322.3 325.8,349.1 486.1,379.8 577.5,236.8 288.8,420.1 288.2,459.4 481.8,279.4 519.3,305.4 581.1,267.9 468.2,286.2 180.2,520.7 501.7,273.5 495.2,344.3 419.8,302.5 497,327.4 443.9,300.6 293.7,448.4 562.3,248.5 330.7,330.5 287.9,422.8 469.4,373.3 350.4,341.8 489.3,380.5 421.7,300 295.5,372.2 337.7,357.5 485.8,378.1 431.9,407.4 539,298.9 438,405.7 288.1,435.9 449.3,404.9 402.2,309.6 310.2,439.9 325.4,447 328.5,436.1 289.5,432.5 441.8,283.2 465.8,382.5 340.3,340.7 438.5,442.7 507.9,315.3 350.9,294.7 320.2,449.5 480,376.3 433.1,308.7 530.3,291.1 330,444 444.6,386.6 502.1,315.2 257.9,454.9 498.7,278.9 421.8,313 435.3,415.3 403.3,427.2 346.2,442.1 314.3,449.8 535.5,267.8 310,397.9 362.4,332.5 432.9,297.2 308.2,439.2 461.9,374.9 291.6,429.8 276.2,446.7 463.6,417.8 298.3,384.5 501,283.9 501.6,375.4 471.6,383.6 342.7,450 518.2,294.4 458.2,395 367.2,332.5 426.3,414.7 496.6,318.9 295,474.2 273.4,436.3 573.4,274.3 371.2,300.4 369.4,446 507.9,330.6 442.5,392.8 339.5,344.2 494.5,274.4 279.2,458.6 405,311.5 404.8,299.6 360.4,423.3 290.9,456.4 444.2,388.1 488.2,340.8 491.5,287.1 375.3,461.1 375.3,282.3 393.3,430 341.1,438.5 276.7,472.1 371,431.4 487,342.6 396.4,416.2 566.6,255.7 492.4,320.2 455.1,381.2 298.1,461 299.1,405.6 300.8,371.6 439.2,303.4 286.3,418.5 496.1,331.6 448.2,292.8 326.6,432.7 517.3,307 270.7,420.9 351.6,306.4 346.1,323.9 513.8,318.6 487.2,367.9 455.1,296.2 298.6,445.3 311,361.4 497.7,284.5 500.9,382.5 388.4,320.8 386,414.8 400.3,421.8 365.6,271.6 409.1,314.7 304.5,446.4 465.9,277.6 531.7,297.5 458.8,382.4 374.1,327.1 274.8,454.1 476.1,369.8 298.3,422.7 569.5,244.5 340.5,352.8 537.3,266.3 425.1,303 364.3,434.7 506.5,273.6 435.1,408 304.3,394.7 514.9,317.8 566.7,277.2 329.7,336.1 292.4,370.2 521.7,299 462.7,385.3 476.9,357 490,267.9 377.3,287.6 294.6,402 511.3,307.3 389,307.2 498.6,322.5 554,259.1 322.2,349.2 292.2,405.8 436.8,411.1 373,324 443.2,301.8 486.1,374.9 387,323.3 549.9,256 322.4,439.3 436.4,293 297.8,448.8 402.6,436.2 547.2,279.5 519,344.6 435.7,298 316.7,389.9 471.5,390.9 346.9,336.6 508.5,308.9 392.1,421.9 456.9,294.5 407,428.2 415.8,421 420.4,407.9 537.2,382.4 243.9,380.8 276,368.1 448.3,412.9 593.8,359.2 498,338.3 454.3,299.6 292.9,416 401.2,296.7 394.6,433.3 294,424.6 406.4,423 395.7,424 498,369.8 368.5,325.4 554.7,258 513.7,311.5 515.4,327.2 415.8,317.3 413.8,304.8 481.9,365.7 406.6,419.5 301.2,448 412.8,416 410,300.8 445.7,286.3 373.4,308.9 466.5,288.1 405,428.1 452.6,440.2 506.7,342.1 405.4,451.6 497.8,315.5 401,304.1 505.4,331.6 318,372.4 387.1,423.2 365.2,326.6 227.4,484 489.6,343.9 557.9,247.5 299.2,416.2 356,339.4 306.8,376.2 292.6,452.4 311.2,393.7 266.3,445.9 549.7,265 246.4,485.4 468.8,402.5 470.4,286.4 514,369.7 317.2,391.9 307.9,385.9 285.7,410.2 517.9,271.1 461,389.8 488.6,284.9 526.1,303.7 426.5,404.2 544.4,272.8 533.7,297.9 513.1,302.1 337.8,346.8 360.5,425.9 452.1,277.6 405.8,315.7 494.2,335.7 398,303.9 428.4,289.3 500.1,328.6 306.5,329.7 441.4,394.2 440.1,404.7 391.7,421.2 401.9,415.4 506.7,270.9 372.1,432.7 390.1,412.2 562.7,259 286.9,401 418.6,424.9 412.6,310.5 250.7,463.4 385.1,312 362.7,300.8 300.9,474.1 479.4,287.5 518.3,310.2 206.2,316.6 507.3,282.6 504.9,343.8 482.1,359.1 434.5,402.9 491,284.8 415.5,414.9 388.4,414.8 282,470.4 318.1,369.8 455.4,417.6 473.1,278 488.2,286.7 343.7,350.4 528.1,285.2 513.3,321 555.6,263.6 434.5,423.2 383.5,415 498,326.8 537.2,267.3 249.5,411.6 559.5,291.2 456.1,295.8 301.3,402.6 363,328.5 441.1,395.3 464.1,387.2 299.9,418.3 496.5,339.5 537.7,277.8 503.9,377.5 413.8,410.8 488.7,335.6 367.3,436.2 355.1,337.8 319.8,387.4 237.3,454.4 449.4,293.7 537.2,276.4 340.6,356 305.9,400.5 464.1,269.4 428.5,307.1 302.6,465.7 516.6,325.8 512.3,304.9 561.8,258.6 406.9,320.4 504.6,347.5 209.1,502.9 566.8,276.4 331.6,439.1 310.1,374.5 349.3,346.7 443.3,286.1 497.8,333.5 373.3,303.1 300.7,399 389.5,317.9 388,425.2 498.5,266.2 325.6,441.9 438.4,398.4 343.2,348.8 538.5,282.3 330.8,353.8 321.5,383.4 507.7,363.9 433.4,439.1 436.4,401.5 349.4,336.5 386.8,248.8 281.1,429.8 457.8,298.4 492.6,338.8 356.1,330.6 189,511.7 423.3,405.9 425.2,411.3 583.9,242.2 291.3,450.4 388.4,430.8 490.8,374.7 449,409.1 540.8,257.1 310.9,369.8 371.1,426.9 519.7,297.5 447.6,283.8 387.7,316.3 473.1,356.3 307.1,346 316.1,369 340.7,349.2 407.3,289.3 482.5,389.7 385.2,307.3 474.9,273 296.5,416.6 421.8,314.5 284.5,416.6 339.2,335.1 383.4,452.2 471.1,278.5 501.1,320.5 375.9,444.6 301,410 300.7,424.9 496.4,348.5 446.4,406.2 418.4,305.7 335.3,344.3 375.9,325.3 364,335.9 422,412.8 376.3,425.6 358.5,426.9 473,271.3 506.7,279.5 524.6,255 345,431 186.8,514.9 325.6,443.2 362.8,318.2 226.6,489.6 399.7,433.7 292.2,450.6 313.2,383 366.4,324.1 499.6,328.6 443,461.2 273.4,442.9 387.6,279.9 362.7,423.3 374,426 503.1,274.4 533.4,257 401.6,318.2 539.7,273.4 506.3,327.5 392.2,296.4 330.6,437.2 464.1,373.2 371.9,328.9 458.4,403.3 416.7,317.4 521.4,267.5 384,243.7 300.5,411.9 251.5,468.1 216.7,500.9 423,249 337.5,350.3 324.3,454.3 369.8,444.5 528,294.7 417.4,312.4 338.6,441.1 262.8,469.6 328,338.6 397.9,313.5 329.7,359 369.3,324.4 476.2,270.2 461.6,279.8 313.9,443.2 615.3,198.2 427,290.1 379.6,317.5 563.3,253.1 521.8,295.3 406.8,302.7 304.1,403.7 523.2,298.2 446.4,392 487.2,285.8 369.6,308.3 442.4,389.9 375.7,251.6 332.8,433.1 322.9,380.3 413.2,312.2 479.3,369.8 457.6,381.4 354.5,441.5 434.2,422.2 514.5,271.4 586.8,237.8 291.4,462.6 366.2,424.1 422.6,299.8 370.7,321.3 414.4,421.2 322,328.4 519.7,356.7 369.8,329 425.7,404.3 284.7,421.9 378.7,296.7 485,368.7 344.7,343.6 282.9,453.3 535.3,257.9 479.4,354.8 353,434.2 541.9,271.3 301.4,381.4 408.3,320.6 452.5,289.2 274.5,352.5 283.2,433 318.7,349.5 480.8,378.7 338.6,297.8 527.5,322.8 438.8,302.4 473.8,270 308.7,388.8 494.4,365.4 537.1,255.4 428.4,300.8 390.6,414.5 320.8,351.1 443.8,446.1 362.8,323.8 524.3,299 269.8,443 477.2,274.8 325.6,358.4 240.3,476.5 480,289 425.9,400 480.8,356.9 429.5,407 273.2,455.4 464,377.4 502.7,330 450.1,395.5 502.2,328 342.9,430 249.3,469.7 235.1,472.3 532.4,270.2 312.3,379 501.7,264.1 268.3,463.5 503.2,281.1 291,432 279.6,439.1 491.2,364.7 521.7,304.8 504.7,322.1 302.9,456.6 467.1,367.6 415.5,427.1 376.5,327.7 358.6,328.5 318.2,385.7 328.7,352.9 409.3,301.2 281.4,434.3 478.3,361.1 399.1,413.5 335.3,438.6 515.9,308.9 283.9,433.1 316.3,369.1 311.5,392 332.8,354.8 368.5,438.3 288.5,422.4 195.2,487.7 457.6,388.5 489.9,350.6 334.3,338.3 391.3,430.1 251.4,474.7 425.4,276.2 310.3,390.9 380,302.6 270.5,466.7 432.3,400.1 380.9,416.4 503.5,342.8 391.3,304.4 469.5,365.6 376.4,325.1 564.1,236 511.8,271.9 462.1,290.6 452.9,294.9 546,261.9 534.7,298.3 445.9,428.9 326.7,439.2 561.2,250 589.2,258.6 474.2,377.7 522.4,265.7 341.7,338.2 315.8,352.2 460.7,403.4 299.1,369.8 540.1,286.7 482.5,376.7 456.4,290.8 497.2,281 292.1,350 476.2,288.2 419.4,442 565.4,280.7 482.3,357.4 491,349.1 474.4,288.3 411.2,459.8 460.8,298 375.3,423.4 525.8,368.4 262.9,355.9 497.2,446.2 491.2,286.8 553.1,268.2 437.7,304.3 213.1,490.2 331.5,434.1 527.5,290.3 557.3,264.8 624.9,202 407.1,431.4 387.6,434.4 505.8,318.6 281.8,440.4 501,342.3 467.8,292.4 414.5,310.6 526.2,266.9 567.2,250.5 510,375.3 363.2,331 414.6,443.8 365.6,436.4 469.4,287.4 415.3,308.7 278.6,444.5 438.2,435.3 373.3,438.5 513.7,273.7 301.6,403.1 327.9,370.9 254.6,396.7 326.6,367.6 329.1,363.1 278.9,434.2 417.5,421.6 306.8,402.1 345.2,323.6 451.7,398.9 287.6,380.5 329.8,442.3 463,380.9 241.3,474.8 448.1,300.1 539.6,255.5 341.7,431.4 345.7,318.1 493.3,365.6 286.9,376.3 482.2,368.5 499.3,342.2 391.4,417.2 305.1,407.7 486.9,390.3 510.7,273.8 311,356.8 452.8,295.8 478,366.1 521.1,264.2 450.9,405.5 402.9,452.5 493.9,277 496.4,336.9 397.4,414.7 391.9,316.7 517.5,372 292.5,400.3 451.5,390.2 292.5,373.4 503.2,322.2 375.3,433 252.3,448 470.7,371.9 534,324.2 394.9,425.5 500.1,279.7 319.4,445.7 457.4,398.8 244.6,457.8 394.9,418.4 551.6,286 425.7,421.4 295.7,395.8 518.6,303 429.2,410.3 372.1,326.8 387.2,298.1 236.9,473.9 422.4,453.2 525.5,291 432,401.7 304.4,391.7 384.4,300.4 292.3,392.1 354.2,426.7 428.5,401.4 303.4,402.1 474,367.5 494.5,340.1 475.3,289.1 445.3,391.3 533,265.2 303.4,445.1 492.3,367.3 570.7,251.9 410,293.7 302.4,346.7 354.5,334.4 329.1,356.7 473.5,374.1 490.4,343.7 277.8,452.2 431.3,404 395.2,454.1 314.2,374.4 325.5,438.9 303,405.1 490.6,385.6 361.1,332 285.4,420 553.2,260.5 316.9,441.7 442.9,296.7 541.6,315.6 550.1,262.5 267.2,462.2 491.5,382.3 397.7,430.6 445.4,294.8 458.4,294.4 431.1,399.2 351.4,429.3 559,259.8 357.8,306 491,341.8 445,299.4 276.8,456.1 438.6,394.6 361.3,432.3 210.1,507.3 464.1,383.5 368.2,452.5 401.4,452.2 354.6,328.3 523,268.6 266.6,454 283.3,370.8 449.8,395 329.2,354.5 383.7,321.3 308.9,391.4 300.2,419.7 553.3,263.3 494.2,328 468.2,280.6 492.4,343.8 290.6,386.3 407.3,445 367.3,329 514.6,330.7 440.7,302.6 383.6,418.2 318.5,360.9 480.8,391.1 423.2,302.9 338.6,434.2 565.6,244.4 415.8,287.4 559.6,238.1 520.7,267 344,354.4 274.9,411.5 282.1,334 265,464.6 442.1,294.6 525.9,314.1 335,362.3 380.3,314.1 386,320.9 293.3,411.2 315.5,436.2 529,291 506.2,284.4 375.9,319.8 407.6,411.4 527.4,312.1 310.8,352.2 419.4,421.6 292.9,435.8 495.9,364 339.9,348.5 277,440.1 356.2,336.9 412.4,411.3 276.7,435.1 340.4,434.2 321.1,359.9 414.3,484.3 503.6,318.4 277.9,454 419.5,408 284.8,453.5 325.9,370.5 426.7,400.5 423.1,310.3 400.9,314.7 418.2,299.8 408.7,464.1 485.5,287.8 475.7,280.3 337.5,440 380.4,428.4 489.1,352.9 417.6,283.6 351.2,426.6 476.7,387.1 257.5,466.7 271.3,382.8 344.2,430.3 324.3,363.2 464.5,379.1 340.5,354.3 694.2,163.1 649.2,192.6 635.5,201.4 702.5,154.7 686.3,158.5 700.4,155 584,237.4 565.2,249.7 560.5,254.8 585.9,239.8 542.3,269 621.3,202.7 701.2,152.5 650.7,199 609.2,220.7 624.5,210 664.6,187.2 556.1,257.5 689.2,165.9 721.7,138.9 727.9,135 579.6,240.1 630.5,202 638.5,199.9 594,231.2 718.8,142.6 618.2,224.3 585.9,232.2 613.7,216 570.2,246.3 664.6,193.8 644,188.2 601.2,225.6 630,204.7 615.7,215.4 610.4,220 665.9,181.5 693.8,162.9 634.3,198.7 714.5,163 623.6,207.9 728,140 569,254.8 704.5,157.3 669.4,177.2 643.8,197.4 614.2,222 719.5,143.2 621.9,215.8 575.4,234.9 579.5,238.8 648.6,189.8 702.7,164.8 618.5,214.8 625.1,213.7 568.8,247 676.1,172.5 613,211.9 650.7,194.5 599.4,227.2 579,243 562.5,249.9 708.8,148 689.5,167.5 603,224.3 695.4,160.6 702,147.4 677.8,168 617,214.2 568.2,250.8 646.4,193.2 710.3,145.2 703.1,152.2 557.1,256.4 658,187.4 591.7,233.5 690.9,162 652.1,192.7 595.2,230.3 672,176.2 694.3,157 513.8,326.3 722.4,140.8 610.5,213.3 558.7,255.1 656.4,198.8 663.5,183.3 709.9,152.3 675.3,175.2 698.4,159.2 564.1,254.5 636.2,198.7 705.3,154.1 646.1,191.3 556,254.8 593,229.8 532.6,268.9 695.8,157.2 660.2,186.3 630.8,208 615.6,213.4 653.8,188.2 611.6,207.5 576.8,240.4 628.4,207.7 577.3,242.9 632.3,202.7 564.5,251.1 617.6,208.2 562.1,271.7 673.6,175.4 689.3,162.5 698.3,157.5 721.6,141.6 614.9,200.8 706.1,150.6 596.4,225.8 609.3,216.2 614.6,210.4 717.8,180.2 598.3,225.9 672.2,180.6 589.9,233.7 589.3,232.2 687,168.7 660.1,180.4 587.8,232.5 581.1,235.8 625,215.9 603.9,207.7 678,170.6 724.1,139.1 626.9,205.7 666.1,177.6 661.9,181.4 624,206.2 682.9,208.3 664.9,176.3 711.8,147.3 586.3,217.7 710,149.4 662.7,180.4 616.1,222.2 691.3,163.9 583.9,237.4 553,254.8 690.7,166.4 638.1,195.6 697.4,164.9 570.6,240.3 585.7,235.4 666.8,180 642.6,186.3 608.5,221.1 600.5,228.8 710.7,170.7 627.6,240.5 682.3,164.7 674.3,158.7 623.4,206.1 668.1,180.8 713.2,144.6 711.9,143.4 708.8,153.8 679.7,176.8 659.8,178.3 714.6,145.4 608.6,226.7 596.1,229.1 607.4,222 565.2,243 683.3,156.3 604.1,220.2 656.2,185.6 663.3,177.9 585.8,225.5 601.7,224.4 651.2,186.6 728.5,138.7 590.6,228.1 577.2,243.7 682.1,166.7 673.5,174.5 539,270 645.8,192.7 711.9,149.6 684.6,162.4 583.8,254.7 610.8,217.2 544.7,268.1 699.6,140.5 659.9,185 599.5,229.4 646.2,186.7 609.8,204.4 651.1,180.1 680.7,171 600.2,234.1 513.6,249.9 608.4,217.1 674.1,174.3 595.8,228.2 678.8,178.6 704.6,156 645.3,199 650.2,189.4 702.9,161.3 688,164.6 586.4,233.8 669.2,145.5 724.9,161.2 702.6,160.5 717.2,146.4 585.6,234.5 544.2,259.6 494.5,246.9 619.5,211 591.2,213.4 705.5,147.7 613.9,218.5 622.8,215 622.3,210 641.9,193.6 654.5,195.1 581.1,240.7 606,235.6 724.4,138.5 582.2,230.3 542.9,239.9 692.2,166.5 581,242.3 602.2,223 620,208.9 641,201.9 593.2,236.5 581.8,238.4 655.8,189.4 576.2,237.3 588,235.5 667.4,176 707.1,151.1 579.8,231.9 644.9,197 633.9,199.9 623.2,211.2 696.1,157.2 562.1,243.1 720,136.1 631.6,198.9 712.2,147.7 702.5,147.2 684.5,166.7 576.6,234.4 637.6,199.8 592.9,228.8 697.3,156.6 583.2,240.4 655.8,188.1 620.9,210.8 617.6,211 688,156.5 558.2,243.3 644.1,196 616.4,241.6 590.5,230.8 575,237.4 724.4,136.7 652.4,189.5 574.8,240 678.4,158.3 607.9,191.8 624.6,217.9 629.9,205.2 693.5,159.8 640.1,197.4 625,204 601.3,221 638.2,204.3 604.6,200.9 714.7,142.3 676.6,198.2 688.3,164.6 681.7,168.2 486.8,277.7 719.7,145.5 591.6,232.7 566.1,234.4 547.4,260.6 674.1,171.9 615.3,219.7 642.6,199.7 615.2,212.5 653.1,186.1 681.7,171.8 667.5,186.8 698.4,154.7 617.2,215.4 541.1,266.2 658.2,183.5 661.4,217.2 552.7,252.9 684.1,168 550.5,258.2 651.8,191.9 621.3,212.2 705.9,149.8 676.5,173.1 562.6,251.1 640.7,191.7 701.5,157.3 716,139.8 604.3,222.9 598.6,223.9 715.4,144 717.2,136.5 548.9,260.1 635.7,215.8 627.2,207.1 657.8,183.4 568.7,246.6 561.7,251.3 644.6,194.5 594.7,222.8 707.7,148.3 625.2,211.5 649.9,197.1 635.4,203.2 596.5,228.9 642.2,196.2 729.5,141.8 630.5,226.1 699.1,151.9 527.2,285.1 723.4,146.5 618.2,208 632.6,209.2 726.1,138.2 572.4,243.4 722.4,161.3 618.9,160.4 644.9,184.1 603.2,219.3 678.9,169 648.7,195.1 673.7,172.8 576.7,251.5 588.1,245.1 647.5,182.7 656.3,187.5 720.2,170 551.4,259.9 664.2,178 655.1,202 696.7,162.9 641.2,196.9 671.2,177.8 592.3,233.5 663.7,182.2 626.9,252.6 700.6,160.1 482.8,278.2 604.7,226.1 588.3,236 687.2,156.2 683.6,169.6 723.9,137.1 705.7,151.9 599.3,219.6 724.1,133.4 594.6,226.7 630.9,204.4 650.2,188 634.9,207.4 632.2,207.1 587.8,229.4 678.3,171.4 603.4,225.6 590.8,226.6 666.1,183.5 627.7,202.9 699.2,155.7 683.5,168.9 575.7,248.8 625.5,208 629.6,199.7 656.7,145.7 696,153.7 597.1,232.5 718.9,139.5 662.7,171.9 544.7,255.5 666,180.9 595,254.4 714.2,149.2 694.7,162.6 552,253 611.8,216 571.6,241.6 643.7,190.7 656.6,189.6 702.3,173 618.9,216.7 532,314.6 708.9,155.6 661.4,190.1 660.6,184.9 653.7,183.7 648.8,182 582.4,234.2 726.6,135.1 607.1,220.8 559.5,249.3 671.3,181.9 567.8,244.2 716.8,143.9 662.3,193.6 608.4,223.9 561.9,242.9 639.1,198.8 499,260 673.7,181.2 722.1,143 579.4,242.5 618.3,206.9 549.3,252.2 712.2,140.2 588.9,239.3 611.1,206.7 670.2,190.4 699.5,172.6 541.3,252.1 711.8,120.3 598.8,233.1 580.8,213.8 589.8,226.6 549.9,258.8 510.1,254.1 539.9,261.9 686.2,165.7 674.8,182 678,169.4 717.5,151.9 579.5,245.3 671.9,173.8 664.2,171.9 581.3,244.9 712.5,149.2 634.6,200.8 625.8,200.8 615.3,193.8 571.5,249.3 683.5,171.9 680.1,174.5 642.8,188 560.8,256.4 614.3,230.4 718.5,138.1 643.2,194.5 672,171.8 696.9,160.3 555.2,272.4 578.1,309.7 677.6,176.2 721.4,143.4 541.1,263.4 626.5,214.9 717.8,149.3 651.4,195.9 620.4,228.5 649.9,188.7 591.1,236.6 716.5,142.5 543.4,222.4 706.8,153.2 501.6,276.1 594,226.7 690.8,156 635.8,209.5 654.7,268.7 636.8,201.1 557.9,261.9 579.4,234.8 680,135.1 667.6,196.7 640.7,170.4 654.5,186.1 692.5,157.1 592.1,232.8 668.8,220.2 681.7,165.8 528,256.4 715.1,147.8 656.1,192.9 658.2,179.8 711.5,153.2 654.9,184.6 570.7,247.8 720.1,139.1 604.8,223.4 599.7,222.3 599.4,218.4 694.7,152.2 565.8,258.8 668.7,174.2 723,141.2 616.6,210.2 551.6,330.2 611.8,221.1 714.7,138.6 623.3,203.5 525.5,246.4 635.4,205 599.7,232.7 690.3,174 632.6,203.7 577.5,229.8 617.6,218 588,223.9 702.5,158.2 683.4,160.7 556.9,259 712.9,146.5 579.3,249.4 686.7,175.8 542,286.1 724.8,142.6 584.4,245 567.8,241.1 572,255.7 704.1,181.5 594.8,236.5 552.4,269.5 667.7,157.2 543.7,261.6 671.1,162.4 669.8,175.2 609.8,230.6 637.8,192.5 594.5,237.3 715.9,127.2 608,214.7 537.2,264.4 626.7,204.4 545.9,262.2 601.6,231.2 572.1,247.8 616.9,220.5 655.9,182.9 684.8,160.6 691.5,142.2 604.7,244.5 706.1,127.3 683.6,154.6 694.4,171.9 558.8,258.3 620.9,213.6 609.4,207.2 608.4,212.6 626.5,210.5 606.4,231.7 648.2,193.8 584.6,243.7 641.7,248.1 606.2,223.8 599.5,236.4 567.2,248.8 520.1,226.8 553,255.5 686.3,162.8 660.1,188.8 584.7,260.2 614.1,180.9 541.9,281.3 730.1,138.9 600,206.9 530.2,253.4 606.8,215.3 578.8,216.7 588.6,207.5 638.5,202.2 693.2,154.5 642.1,181.2 541.4,262.9 573.7,249.1 679.2,173.2 716.3,147.1 712.2,152.8 597.9,253 728.1,136.8 713.8,157.2 631.1,209.5 679.8,147.1 625.9,221.1 526.4,251.3 578.8,226.3 631.9,196 548.2,250.3 699.9,126.9 636.1,204.4 604.6,207.7 653.6,177.6 659.2,182.8 544.6,251.8 566.6,246.7 496.1,281.3 693.7,146.3 549.7,279.6 512.2,361.7 700.9,153.7 572.5,245.5 628.2,209.7 694.8,166.6 688.4,169.7 543.4,272.6 677,157.3 604.7,227.5 721.7,151.9 567.4,251.5 720.4,146 577.6,256.8 628.7,202.3 721.4,156.5 707,137.3 613.6,181.4 613.5,214.9 575.2,246.1 686.3,172.1 555.6,279 628.3,218.8 690.9,153.7 515.3,269.2 722.1,147.5 626.6,213 612.2,219.1 654.1,192.9 696.5,185.4 636.7,207.8 538.6,264.7 540.9,280.6 634.4,213.6 684.5,171.2 679.7,179.1 554.5,249.4 578.8,236.5 640.4,200.4 703.7,156.6 725.2,128.1 718.1,134.5 648.3,201.9 559.6,261.3 591.1,239.3 563.2,246.6 619.9,199.9 650.3,184.7 641.3,190.5 558.6,222.4 637.8,197 558.3,266.3 672.6,177.5 701.9,136.4 587.6,198.7 679,101.8 732.4,142 566.7,253 591.2,203.8 640.5,204.4 605,218.2 690,169 696.4,151.7 699.3,150 726.4,141.3 598.8,256.4 585.6,211.5 332.9,450.9 221.1,505 209.6,500.9 254,466.6 238.6,477.5 226.6,487.4 253.9,468.7 231.7,474.5 275.8,446.6 209.3,496.5 199.7,509.5 233.6,482.7 214.6,489.1 268.8,462.2 277.6,449.5 232.3,483.8 236.2,478 270.6,460.2 236.4,479.9 245.4,446.8 240.4,484.7 200.5,505.4 202.9,518.1 215.1,496.4 294.2,422.1 218.2,495.3 213.6,503.2 197.9,503.8 241,478 212.2,499.3 233.9,480.3 206.3,504 285.7,432 220.1,535.7 198.5,500 280.8,438.6 231.1,484.3 223.6,488.9 220.9,489.7 255.1,468.5 225,487.1 241.8,472.4 337,448.4 199.4,502.3 283.4,440.6 216.7,495.5 238.2,475.6 208.8,508.8 192.9,479.4 222.5,494.5 247.5,477.7 274.3,459.5 219,492.6 237,475.7 254.7,462.9 258.7,468.3 267.6,455.9 221.3,495.4 229.7,483.7 250.5,481.7 247.4,473.5 213.8,495.2 248.7,475.3 255.6,463.8 228.6,487.3 242.9,481.8 308.6,445.5 247,465.6 202,502.7 201.1,509.6 276,466.3 265.8,462.4 240.9,479.9 236,480.6 245.4,443.1 225.8,510.9 286.9,458.8 206.8,501.3 217.6,493.9 253.9,471.6 204.6,499.2 198.9,512.4 232.5,476.3 296.8,445.2 231.5,486.8 197,485.4 203,511.9 264.6,458.5 258.2,465.1 220.3,484.9 227,479.4 212.1,486.4 213.9,494.5 232.9,485 252.6,464.2 300.5,446.2 254.6,466.8 204.5,494.5 256.7,452.7 211.6,495.4 230.4,482.2 273.1,521.8 297.7,482.9 270.6,454.4 197.8,506.1 275.7,476.3 231.3,487.9 210.6,500.9 249.4,472.6 247.6,455.7 274.8,455.5 222.4,491.9 205,474 224,469.2 211.6,492.2 276.9,438.6 253.9,470.2 290.1,452.8 260.9,466 250.8,475 241,481.4 250.4,470.2 211.3,498.2 209.6,492.3 201,503.1 245.2,476.2 228.1,485 256.3,458.9 206.4,506.7 280.6,424.7 204.2,503.2 227.2,487 211.6,482.6 212,498.3 199.9,505.4 241.7,485.4 239,487 243.5,478.5 206.8,500.7 269.3,450 230.5,495.7 264.3,456.7 204,496.2 223.4,489.7 314.4,445.4 209.4,504.2 243,475.4 244.1,478.8 224.4,491.6 201.3,512.2 281,453.5 255.6,469.9 272.8,459.9 215.2,493.3 250.4,472.5 276,434.7 251.7,486 303.6,444.8 233.1,487 243.1,479.1 202,503.4 217,491.9 267.5,476.6 307.6,407.3 234.7,483.5 234.1,482.3 295.4,454 200.2,508.3 298.6,458.4 260.7,471 238.3,479.2 256,473.9 275.1,449.6 235.4,450 267.8,451.6 207.8,495 255.2,472.9 203.9,509.2 270.1,442.6 255,478 297.3,463.7 265.1,465 204.3,501.1 219.8,487.9 216,488.4 200.7,474.3 233.7,477.9 233.4,454.2 219.7,493.7 216.7,498.5 249.5,473.6 210.5,502 212.6,505.1 195.2,503.8 201.5,486.8 221.6,521.2 259,461.9 275.7,458 198.8,508.4 248,480.9 274.7,423.2 236,481.6 304,496.7 289.1,399.8 204.3,496.8 219.3,503.7 214.7,491.6 247.1,472.1 239.8,469.1 258.3,459.6 240.5,470.9 202.6,502.7 205.7,509.2 269.7,452.4 270.3,463.3 212.6,502.1 228.1,482.2 223.6,484.7 306.2,463.4 296.4,413.8 262,431.4 257.1,468.3 218.8,490.7 278.9,453.2 232.3,490 215.7,435 199.9,504.8 223.8,509.2 233,470.9 208.5,498.7 239.7,473.4 244.3,473 287.6,454.3 213.7,491.5 234.5,486.1 220.5,448.5 270.1,461.4 225.7,485.7 234.2,466.3 221.8,482.4 206.1,411.2 763,110.4 736.7,114.9 767.1,110.9 772.7,107 762.6,112.2 775.8,104.2 741.2,126 748.3,123.9 760,117.2 727.3,112.3 770.2,107.2 732,131 760.8,112.6 769.3,107 760.2,108.2 764.6,126.2 753.4,112 743.1,127.5 765.9,108.2 768.3,110.7 755.3,114.5 769.7,115 769.6,105.8 748.9,120.1 739.5,129.5 758,107 767.2,112.7 735,131.1 753.9,114.5 760.4,114.2 746.1,123.1 740.8,127.2 771.7,105.7 756.1,119.2 753.7,102.2 735.2,129.3 757.6,116 764,115.2 728,130.7 753.6,119.7 774.1,105.5 730,130.6 754.5,115.5 732.8,134 738.2,144.1 770.1,104.4 754,118.1 736.2,132.5 694.1,103.5 751.5,126.8 743.3,129.3 771.6,100.1 766.8,115.5 777.6,121.5 775.6,101.9 748.4,118.1 743.4,126 746.9,132 748.9,122.9 774,102.9 765.5,111.5 730.5,136.6 759.6,112.5 771,101.1 733.2,119.2 758.6,114.8 738,126.5 767.8,103.6 738.4,133.7 770.8,112 757.4,112.3 746.1,137.5 727.1,131.9 763.3,108.8 732.8,129.2 772.6,106 766.8,117.2 747.8,126.1 743.4,124.8 189.6,516.9 166.4,534.8 143.4,521.2 147,534.8 144,537.8 160.1,530.7 172.1,519.9 168.2,540.7 146.5,530.4 146.2,531.2 181,515.2 179.5,512.7 161.9,554.5 194.9,511.1 173.8,529.8 177.2,518.7 184.7,516.3 174.3,522.4 190.9,513.6 127,527.7 173.4,524.6 164.9,533.9 152.4,538.6 189.8,499.7 166.6,526.3 180.8,521.3 186.9,542.6 181.5,546.6 153.9,528.4 170.1,523.5 150.1,535.1 153.3,553.9 175.7,519.3 180.3,526.7 149.2,541.8 189.9,513.5 192.1,547.9 188.8,507.4 148.6,544.5 169.1,524 181.3,530.7 201.7,517.9 192.4,498.2 178.3,509.9 170.6,527.5 182.8,515.4 197.3,508.3 160.6,538.9 192.8,511.8 192.6,509.3 182.4,520.9 185.6,536.1 168.5,528.6 178.4,523.5 175.3,525.1 160.4,536.7 154.2,550.3 164.9,538.3 185.1,517.7 156,539.2 153.3,542.5 166.8,527.6 157.8,534.7 174.4,527.5 172.3,513.1 191.7,520.8 173.5,549.7 163.6,532.2 192.6,508.9 186.2,518.5 164.7,524 177.9,525.8 151,541 164.4,542.1 162.5,528.4 174,523.5 158.5,535.3 144.4,531.3 155.7,536.6 176,522.9 165.1,530.7 154.6,531.9 148,488.4 167.7,524.9 186.3,536.7 159.8,537.7 188,538 193.2,505.7 177.2,519.5 195.9,506.4 127.7,556.7 137.7,551.4 127.9,555 121,550.2 133.3,555 136.5,553.8 138.2,553.6 135.1,560.7 122.1,561.3 128.3,558.8 116.1,553.4 121.8,556 134.1,553.5 133,552.8 134.2,548.1 130.2,564.4 126.3,550.7 124.2,562.1 126.5,557.6 131.6,552.7 125.9,558 130,556.6 123.9,559.1 124,556.5 130.3,548.9 126.7,560.4 130.7,565.5 129.6,545.4 784.4,96.9 787.2,97.2 630.6,87.9 124.3,417.4 57,573 74.5,567 100.5,594 145.5,606 386,526.5 291.7,271 711,247 759,172 177,575.5 116,565 104,534" marker-start="url(#mr)" marker-mid="url(#mr)" marker-end="url(#mr)"/>
<path d="M292.3 441.3L352.5 376.3L401.7 327.9L461.9 302.4L511.1 288.2L451 353.2L401.7 401.7L341.6 427.2Z" fill="#00f"/>
<polyline points="378.3,370.9 416.1,375 369.9,386.8 400.3,364.9 420.5,350.2 444,346.5 417,359.8 410.8,354.1 393.9,371.6 414.7,360.7 376,381.2 371.9,383.5 416.2,364.4 397.7,383.2 442.6,306.7 415,366.4 403.4,357.3 387,356.8 390,370 395.7,366.8 401.9,374.3 376.8,374.8 400.9,368.8 379.4,368.8 412.2,364.2 426.3,340 412.3,362.2 390.3,368.9 376.5,375.1 421.4,352.4 390,374.5 412.2,368.1 408.4,376.1 403.4,364.5 350.9,410.3 435.6,350.1 386.8,386.8 404.1,370.6 395.7,356 394.8,360.7 425.7,363.1 397.4,396.4 414.5,410.3 417.3,353.5 377.5,378.1 397,377.3 397.6,369.9 391,363.9 355.4,395.7 396.3,365.8 443.6,341.5 375.2,379.7 392.3,365.1 349.9,400.4 429.6,353.5 400.8,378.3 436.8,351.5 401.6,356.8 395,368 422.1,338.2 429.1,345.7 441.3,373.8 432.1,361.5 419.2,347.2 352.7,394.3 336.9,408.1 431.9,371.3 437.9,354.7 392.4,394 387.1,363.3 432.5,347.9 527.2,276.3 407,353 365.5,393.9 451.9,332.1 454.2,319.9 388.8,374.6 406.9,358.9 438.8,342.9 408,373.5 328,392.3 408.8,356 414.2,352.6 410.1,370.2 416.2,347.8 385.4,370.8 413,357.5 401.1,368.1 403.3,375.3 401.4,341.8 399.7,369.3 399.9,361 373.6,378.8 422.6,349.2 429.4,360 413.4,347.6 422.1,353.1 420.8,356.8 417.4,381.6 381.2,383.3 372.6,384.1 397.9,373.5 413.4,349.1 404.4,360.3 408.3,359.4 440.5,357.2 408,368.1 426.8,359.1 412,358.7 418,362.1 403.5,362.5 430,331.6 408.5,361.6 382.1,378.1 388.1,378 364.9,398.1 419.5,374.2 380.7,375.5 417,354.2 397.7,360.3 322.6,409.5 378.8,390.8 406.7,368.2 330.9,418.9 354.8,397 431.8,335.9 361.2,378.3 417.6,349.3 363.8,388.6 429.6,360.1 393.2,373.8 443.4,362.3 407.7,370.1 456.9,352.6 390.2,394.5 402.1,378.3 425.5,336.3 396.3,395.4 413.7,370.6 385.4,386.3 422.2,370.6 375.5,393.8 378.8,364.6 383.9,377.1 380,363.1 410.2,351.6 388.3,367.3 357.3,398.4 392.3,384 381.6,360.8 403,370.4 399.9,359.2 362.3,412 434.7,364.5 375.5,369.9 422.2,347.9 432.5,354.9 407.4,352.9 364.4,367.4 434.4,344.7 373.7,387.3 352.2,383.2 373.9,359.1 389.4,386.7 377.6,386.5 436.8,340.2 392.9,379.4 400.3,375.6 523.1,326.2 381.3,369.2 413.4,374.1 342.9,398.1 385.9,379 415,356.2 407.7,345.6 336.1,413 449.9,339 392.9,358.6 343.8,411.8 469.4,327.2 454.7,343.3 433.1,365.2 406,379.1 374.4,384.3 396.7,359.8 433.4,374.9 379.9,377.6 450.6,349.1 390.5,388.2 391.6,377.3 366.5,390.8 420.1,344.3 379.7,354.4 406.4,350.9 392.6,340.7 371.4,376.6 456.7,320.2 386.4,371.4 406.4,364.9 415.7,365.2 426.6,347.5 425.1,354.7 383.9,321.9 385.3,364 450.9,329.9 402,338.3 437,339.4 361.2,395.9 343.1,404.8 399.9,356.8 432.6,339 400,342.7 408.4,381 364.6,375.5 393.3,404 331.1,389.6 443.7,343.5 378.5,393.7 355.8,385.9 378.2,372.1 367.9,385.6 371.9,362.9 389.2,359.2 416.8,378.3 391.5,378.3 389.4,354.1 375.3,353.7 392.2,356.3 441.5,326 347.1,389.7 436.9,333.3 411.3,341.1 407,364.1 460.1,314.1 390,342.7 441.1,339.5 444.3,326.8 463.5,315.8 394.5,381.9 369.8,373.2 424.9,354.8 414.8,340.6 368.4,375.1 382.9,353.6 367.5,370.8 474.2,311.5 423.9,357.9 472.2,316 406.1,356.6 380.3,373.5 349.7,412.7 356.9,394.5 347,408.2 414.1,388 392.4,376.7 439.9,349.9 464.3,363.5 377.4,383.4 382.9,387.3 475.5,313.8 405.2,346.7 382.7,367 434.8,355.2 426.7,351.9 387.1,381.6 310.7,429.1 410.3,348.9 417.8,341.6 463,348.2 385.7,363 446.2,320.3 430.9,344.7 352.7,404.4 438.7,346.6 430.9,354 363.2,409.4 368.5,369.8 448.8,334.7 368.9,391 373.7,397 491.3,309.5 385.8,383.6 385.8,372.4 480.5,315.8 387.7,391.3 378.7,358.3 373.8,371.8 409.9,389.6 324.5,422.3 455.3,322 364.6,394.3 442,335.5 431.3,322.3 424.8,342.8 434.8,336.2 421.1,360.7 388.6,361.5 486.6,303.6 393.9,351.2 383.3,366.5 337.3,395.6 345.7,387.5 351.8,400.7 358.6,391.5 453.7,329.5 355.7,400.5 355.6,390.1 395.2,345 406.9,377.2 413.2,342.5 399,348.5 407.9,349.4 447.5,327.1 371,387.2 413,381.5 476,313.7 387.9,400.9 412,345.4 390.1,360.2 425.7,344.6 315.3,414.2 431.6,343 409.9,342.8 447.5,354.9 424.1,364.9 353.5,405.6 400.1,353.1 410.9,374.6 463.5,318.1 406.9,381.4 457.3,335 359.5,381.4 419.3,365.6 407.2,381.3 421.8,330.2 382.7,384.5 470.5,324.5 436.9,329.5 481.9,337.4 397.9,388.3 463.1,335.4 416.2,366.7 331.6,402.8 402.6,353.2 386.7,357.3 343.6,401.1 434.5,366.3 395.6,351.8 375.5,368.4 381,391.4 496.9,350.7 421.4,359.4 401.7,335.2 362.2,385.6 348.2,404.2 458.1,325.1 327.5,421 286.5,411.4 338.2,390.9 386.6,378.9 372,363.1 390.8,382.1 429,339.7 349.5,406.4 425,369 376.6,391.7 433.9,327.1 398.3,387.2 450.4,342 396.7,344.1 405.1,373.6 422.6,332.5 423.7,360.8 370.9,382.6 422.2,366.3 487,306.9 415.7,378.1 399.4,372.6 364.7,378.1 507.7,294.7 445.5,336.6 382.6,358.7 346.5,383.4 369,411.9 400.8,347.2 339.3,410.9 386.7,409.9 343.4,395.6 396.5,384.5 444.4,335.3 403.6,393.7 366.6,378.3 376.6,359.2 437.7,383.2 433.2,351.7 349.9,381.2 426.9,361.7 366.6,353.4 344.3,366.3 432.9,319.8 406,344.8 410.7,385.7 359.8,358.1 456.7,329 371,392.1 351,391.9 368.5,393.5 442.6,348.7 364.7,391.4 436.2,369.3 460,327.4 433.8,350 488.9,302.1 366.8,404.9 438.6,327.2 377,388.4 395.6,380.9 462.3,329.7 349.2,397.1 411,343.5 385.6,358.3 435.1,345.8 435.1,332 390.5,345.5 439,336.3 383,352.8 373,351.2 346,391.1 465,332 398.9,381.3 425.2,350.1 380.2,347.9 382.6,334.1 455.2,331.8 400.4,390.1 453.8,316.5 360.2,406.7 359.1,403.2 327.5,417.8 447.7,345.2 401.1,343.5 475.8,336.9 411.9,380.3 338.2,405.4 362.1,418.4 440.7,343.3 338.8,411.4 441.2,338.4 376.1,389.1 383.7,350.5 461.5,339.6 442.8,347.8 467.5,321.6 367.3,399.3 391.8,400.7 383.3,387.4 417.5,345 446.6,336.8 452.6,331.3 318,420.9 429.4,351 454,345.8 432.1,357.4 496.1,308 362.4,365.3 401.2,348.5 421.2,366 429.2,363.4 420.6,337.8 356.8,389.5 394.4,344 436.7,358.4 369.4,365.1 404,394.2 352.3,397.3 361.2,372 447.7,361.7 430.7,372.4 334.5,410.7 424.1,341.8 464,325.4 342.2,389.2 425.4,374.4 429.3,335.4 365.8,397.9 378.8,405.5 444.2,331.8 333.8,389.3 361.2,397.4 382.6,403.7 358.6,383.3 256.3,440.1 465.1,317 473,320.5 347.4,408.8 342.6,357.9 354.7,414.9 427.6,331.5 477.5,323.6 358.3,378 381.1,396.9 492.3,303.3 429.3,368 385.8,354.2 388.7,349.5 395.6,341.8 383,354.6 420.9,329.9 474.6,322.4 413,338.9 422.9,335 367.9,373.3 394.1,391.6 419.8,340.9 367.9,356.7 358.9,371.1 454.4,326.2 356.2,385.2 439.8,333.2 410.2,375.2 448.8,353.5 446.8,332.9 355.2,374.5 366.1,382.6 361.4,392.1 472.3,312.7 361.4,386.4 456,362.4 477.8,310.6 367,366.9 344.7,397.1 356,348.8 417,369.7 398.1,393.2 357.9,400.7 424.3,393.1 388.8,387.6 342.3,408.7 476.3,292.5 390.5,390.2 370.9,379.9 403,345.5 446.7,326.7 403.4,387.8 332,414.9 501.4,296.3 426.6,390.9 293.8,441 328.5,397 386.9,351.5 425.6,369.3 436.8,398.2 468.8,325.1 328.8,433.6 449.4,333.4 439.9,324.1 450.9,316.9 423.7,372.1 458.5,350.5 433.9,338.8 340.2,403.2 357.2,364.8 369.7,398.2 488.9,298.5 475.6,357.6 383.1,393.9 453,338.4 324.5,416 341.5,417.5 380.4,395.4 364.4,382.7 370.6,337.5 417.4,336 454.9,322.7 481.9,312.7 379.9,362.6 418.7,330 289.8,438.4 441,315.6 444.8,349.2 457,324.6 462.5,304.8 489.9,295.4 361.3,389.3 437.4,331.6 406.7,340.4 365.4,387.8 431.9,332.5 456.5,349.6 440.5,332 421.3,379.3 480.6,329.3 412.3,338.9 343.9,383.2 334.3,393.5 445.9,351.5 364.2,404 367.3,360.4 458.4,322.4 460.9,337.3 466.3,314.2 371.9,393.2 410.7,335.1 443,371.6 468.3,319.7 445.1,357.5 450.8,325.6 452.3,355.1 354,365.7 486.8,302 467.5,330.7 402.4,382 512.4,368.1 519.5,286.2 324.1,424.4 371.2,372.7 482.4,308.2 370.6,368.7 474.3,335.1 360.8,370.8 442.3,329.7 353.7,376.4 483.4,304.8 374.2,399.6 394,334.9 373.4,368.4 359.7,362 459.2,332 421,375.9 388.2,344.3 436.6,372.4 447.9,342.4 463.1,321.9 314.2,429.1 340.3,397.2 458.6,333.9 446.8,364.4 475,325.3 348.3,390.2 454.7,405.9 340,385.2 437,371.5 456.6,337.1 469.5,337.5 325,375.6 349.9,380 454.3,363.9 370.5,400.1 321.6,424.4 459.9,302.2 434.1,324 418.9,330.8 444.1,329.5 360,377.8 399.6,341.6 445.9,322.9 394.4,348.2 404.9,384.1 312.8,410.1 373.8,346.4 360.7,399.1 414,399.7 456.7,315.5 351.7,413 507.2,299.3 407.7,398.1 417.3,377.5 341.8,407.3 490.3,303 503.1,293.5 379.5,343.1 409.4,337 437.5,377.5 461.3,308.7 368.3,362.5 499.9,311.2 407.5,341 345.8,379.2 337.8,390.9 468.2,316.3 331.6,407.5 390.9,398.8 451.4,322.4 363.3,361.3 363.5,371.7 382.3,405.4 339.9,375.2 404.1,333.4 494.1,300.7 377.1,403.7 448.3,314.8 324.4,379.3 348.8,372.4 393.7,387.7 398.6,386.3 401.9,386.6 334.3,419.4 442,366.1 350.9,406.5 429.6,325.8 452.2,352.7 316.8,395.3 395.2,349.1 391.1,352.9 384.3,390.6 464.7,322.3 383.2,347.7 428.7,338.3 461.1,333 460,343.4 383.3,340.5 349.8,384.9 358.2,414.7 356.5,412 502.3,289.2 399.9,334.4 316.6,423.1 407.6,384.8 329.3,413.2 458.5,340.6 374.7,362.9 379.5,347.6 333.5,365.7 378.2,353.8 469.8,355.9 415.2,321.2 355.4,354.3 497.8,299.6 466.7,333 403.3,329 427.1,400.5 493.6,292 427.4,333.1 378.7,399 404.7,435.9 419.4,370.5 453.3,350.9 482,333.8 470.7,329.7 434.8,380 480.5,301.1 374.7,363.9 472.5,337.4 416.7,338.4 416.6,326.1 510.3,287.8 374.3,402.7 358.6,406.5 270,330.7 530.6,269.5 465.6,306.8 492,299.4 379.1,402 313.2,419.8 306.9,435.4 385.9,397.7 482.4,313.3 319.4,393.6 385,331.8 413.1,333.6 507,291.5 333.3,397.1 466.5,339.7 316.7,433.4 438.7,360.3 393.4,347.7 446,317.7 501.1,301 374.6,354 464.8,343.3 332.7,400.4 422.5,382 311.9,434.2 474.7,317.7 439.5,318 462.9,311.9 370.6,357.5 407.2,329.3 473.5,348 449.9,336.1 479.2,306.1 362.3,357.4 429.6,382 417.3,392.9 471.4,322.6 332.8,402.5 451.6,346.2 337.8,406.5 327.1,414.5 352.4,433.7 492.2,316 438.9,351 465,305.6 336.7,400.2 482,344.9 353.9,387.2 335.9,404.8 415.9,332.5 459.9,308.4 344.9,386.5 344.4,407.6 373.4,355.1 275.5,450.9 450.6,355 351.5,376.2 338.2,389.1 352.8,378.5 390.5,349.6 311.5,423.9 488.8,308.5 456.6,314.9 366.2,375.9 316,350.9 415.1,376.2 378.2,319.6 448.7,323.3 457.7,342.3 478.5,307.1 476.4,301.5 542.6,278.1 371.2,400.8 359.5,412.1 305.7,425.7 452.2,335.4 314.5,426.2 314.5,380.8 430.4,320.9 391.8,341.4 483.9,309.9 522.5,278 436.2,360.9 446.1,340.3 318.8,428.7 345.7,401 527.5,274.1 404.5,405.8 392.5,399 441.2,353.4 395.8,333.1 345.4,350.5 459.2,310.8 523.4,279.2 369.2,403.3 319.7,440.1 387.5,395 344.9,403.3 329,405.1 441.2,360 428.4,329.7 354.5,352.2 432,368.5 446.3,367.3 344.1,377.2 438.3,357.2 317.3,423.1 453.2,369.5 451.4,368.4 394.7,332.8 350.1,385.5 332.7,421.4 372.4,406.5 381.4,350.9 350.5,418.5 459.5,303.9 440.5,354.4 368.9,434.1 385.5,399 327.1,384.7 350.2,374.5 475.3,319.6 339.2,394.6 303.5,434.7 357.8,368.5 353.3,403.5 476.7,297.8 403.4,390.3 464.9,319.7 439.2,374.3 310.8,424.6 486.1,318.7 387,345.8 332.2,385.2 450.1,369.3 459.9,382.2 456,346.9 378.5,350.9 314.8,412.6 431.8,384.8 335.3,414.5 389.6,404 344.6,414.4 425.1,329.6 321.8,392.5 360.1,344 432.6,381 463.8,373.7 311.9,412.3 354.6,369.1 393,336.7 357.4,410.7 376.2,396.1 365.6,405.6 445.4,319.8 321.9,419.1 453.3,367.6 492,340.9 301.9,442.8 415,386.8 442.4,382.3 406.3,390.1 345.1,359.4 434.7,322.6 406.6,387.3 313.9,399.2 322.4,431 323.9,435.8 353.7,417.6 421.2,389 470.2,346.9 357,360.5 440.9,390.6 337.9,396.1 384.1,402.6 505,282.3 458.2,318 300.3,440 468.9,311.3 400.5,330.8 404.6,336.2 321.6,389.3 503.3,317.2 376.8,408.5 342.2,425.5 354.8,412.7 378.3,420.5 357.5,435.2 330.8,393.8 340.4,399.3 370.3,439.4 486.5,298.4 367.6,364.6 531.1,261.6 431.7,326.1 459.2,320.1 329.9,422.4 410.5,396.7 345.9,394.5 307.1,432.5 493,301.4 479.7,303.6 451.7,375.6 482.2,299.9 316.3,405.6 327.7,400.2 373.8,402.4 418.5,389 360,426 334.5,407.8 467.5,353.6 325.6,417 357.8,345.1 396.8,403 513.6,306.8 427.3,377.8 508.6,290.6 495,297.9 352.1,414.5 468.2,341.1 349.5,371.1 348,416.6 386.7,402.9 419.9,383.7 439.6,323.8 270.2,423.9 407.1,401.3 306.2,430.7 367.3,335.7 427.2,321.7 304.6,435.4 540.6,268.5 462.9,338 432.1,314 440.7,318.5 487.3,313.8 454.3,340.9 346.6,411.3 475.8,308.3 363.6,344.4 313.6,416 331.7,434.5 398.6,322.2 364.5,347.4 411,321.1 494.3,290.6 329.1,391.6 407.9,333.7 428.5,376 448.1,359 465.3,327.4 253.9,471.2 405.5,399.3 433.8,388.6 449,317.1 389.6,330.8 447.6,310.7 410.6,325.3 513.8,291.9 472.1,363.6 335,427.2 448.5,350 333.9,412.9 441.8,365.3 451.1,319.2 364.8,374.4 412.7,327.4 457.8,364.1 436,376.9 328.7,413 381.2,401.5 405.8,331.8 492,319.7 434.3,384.9 428.2,369.7 313.2,382.8 344.7,366 426.7,326.5 357.1,404.8 439.1,363.3 445.7,401.8 379.1,340 437.3,379.4 483.6,317.1 529.7,287.8 293.3,432.5 444.3,379.5 472.8,374.7 476.5,319.8 458.4,352.9 352,388.5 315.9,400.6 331.1,408.9 468.3,363.1 439.9,366.5 298.6,442.3 362.4,431.7 322.5,416 475.9,345.3 427.8,379.9 321,411.8 322.4,393.6 444.5,366.5 397.5,391 377,406.1 424.9,324.4 428.4,378.8 472.8,303.9 413.7,395.5 375.4,343.5 518.7,280.7 288.8,442.3 423.1,380.9 425,387.9 469.8,314.9 410.5,425.7 288.5,378.4 460,346.1 457.5,340.2 521.2,286 343.8,391.9 315.1,418.7 490.8,311 361.2,363.8 417,386.7 337.8,380.7 573.6,247.6 479.5,320.1 488.7,312.9 463.8,314.3 511.6,280.6 395.2,326.7 355.7,347.1 412.1,330.1 367.8,411.2 386,407.2 435.6,319.9 290.7,439.5 325.5,366.7 387.1,398.8 444.8,312.1 257.7,467.1 424.6,323.3 595.6,256 327.9,410.2 322.8,427.3 454.2,360.4 425.1,384.5 500.2,275.4 411.3,381.6 451.6,351.7 393.3,321.7 358.8,375.4 474.9,296.1 468.3,370.6 482,310.1 404.2,446.5 505.1,312.1 415.8,324.5 539.1,272 421.8,334 505.8,376.2 428.1,315.7 499,293.4 504.3,305.9 335.3,388.1 404.7,396.3 532,283.2 335.2,418.4 513.8,277.2 430.1,387.8 363.3,399.4 347.5,367.5 473.7,327.6 362.5,416.1 452.6,374.3 362.3,406.4 353.5,381.1 318.9,418.5 358.3,374.8 390.1,315.5 488.1,337.5 449.9,359.3 383.4,334.8 399.9,396.2 323.9,409.3 382.9,427.6 418.6,317.8 550.8,267.1 450.4,363.6 337.4,381.5 495,292 340.7,417.8 451,315 432.3,375.3 365.3,346.5 496.6,313.4 461.2,325.1 305,426.6 320.6,422.7 361.3,417.9 447.8,288.7 486,294.8 479.9,347.4 384.3,424.1 413.3,392.7 411,320.6 331.2,336.4 367.5,357.6 476.1,315.9 334.7,423.2 501.1,291.1 460.5,360.9 332.9,415 444,363.1 452.2,312.8 593,253.6 341.2,364.5 337.5,386.4 341.4,372.9 366.4,344.9 462.6,357.7 326.7,429 322,399.6 490.3,315.4 587,247.3 511.9,314.7 338.1,415.4 422.7,302.2 347.4,365.9 342.9,333.4 317.1,400.6 423,329.5 403.6,396 293.3,444.8 317.4,412.2 386.1,340.1 456.5,298.3 382.3,323.9 440.4,377.9 468.9,293.9 426.5,398.9 381.9,342 407.6,403.6 400.7,400.6 341.7,420.3 408.4,394.8 353,368.9 252.4,458.4 323.9,411.5 346.9,329.6 340.3,378.3 438,390.7 325.4,407.1 341.2,426.1 395.5,336.9 490,293.4 313.3,428.8 458.8,354.6 391,334.5 428.4,321.6 375.8,346.7 483.7,294 377.3,412.1 412.6,387.6 297.7,457.3 457.7,372.5 477.7,356.2 477.8,304.3 324.3,426.3 493.6,308.7 355.4,380.9 366.9,427.7 471.5,311.2 449.2,361 501.1,286.3 352.9,366.7 518.2,304.9 491.7,350.9 312.8,429.3 474.4,283.6 411.7,314.2 330.7,424 407.6,406.9 292.4,441.7 452.9,396.7 515.1,294.6 404.2,318.9 462.3,369.9 384.2,342.1 396.6,328.5 525.5,311 512.7,283.6 425.9,317.9 314.4,422.3 290.7,452 346.8,418.6 524.4,283.2 361.1,366.8 326.7,370.4 381.2,409.5 452.3,302.5 380.2,343.3 462.3,353.8 464.9,355.4 402.7,401 478.2,331.6 428,309.9 466.1,336.1 537.9,284.2 423.8,376 300.6,429.4 487.3,309.5 369.5,346.2 533.8,271.4 412.6,394.4 362.7,352.8 519.3,299.5 257.5,455.3 480.9,342.2 330.6,399.7 468.7,334.4 426.7,319.7 397.6,332.9 347.4,393.1 514.3,286.8 497.6,313.7 393.4,321 460.3,358.7 406.9,329 312.5,445.1 513.5,326.3 515.9,304.8 559,280.5 452.3,388.9 399.7,329.8 372.1,409.5 372.4,327.1 487.9,353.8 414.8,328.1 320.9,432.8 478.8,343.6 465.9,353.1 461.3,343.4 407.3,391.5 440.7,387.5 516.7,283 440.8,323.9 326,386 376.5,340.3 472.5,332.4 480.9,353 319,429.3 303.2,428.6 390.5,338.2 355.4,421.8 507,287 456.7,358 418.4,289.5 343.2,375.7 461.4,363.1 397.8,401.8 352,369.6 466.6,347.2 346.9,361.5 358.3,357.5 427.5,395.7 473.2,331.8 336.5,422.5 365.6,423.7 483.5,293.6 338.9,363 334.5,355.7 488.9,329.3 476.1,351.5 351,364.9 360.1,354.5 456,370.3 409.9,326.6 386.8,337.1 292.7,429.2 449.5,311.9 320.9,306.1 443.1,356.5 310.4,409.1 368.7,344.2 373,350.5 491.2,342.7 338.3,422.1 322.5,440.4 335.9,426.9 568.9,248.9 325.5,394.7 361.8,408.3 541.7,258.6 362.7,338.7 324.3,310.8 398.1,336.3 338.5,382.5 502.9,307 370.4,356.8 271.3,463.2 368.9,409.2 512.6,279.9 366.8,417 484.8,286.3 297.9,438.8 420.3,384.4 352.2,359.2 443.4,376.5 439.4,318 296.8,447.7 310.6,362 277.7,449 477.8,416.3 426.9,304.7 469.7,308 493,296.7 305.7,418.6 293.6,436.6 488.2,331.8 403.6,408.4 481.1,299 481.4,323.2 284,397.9 516.6,289.3 508.7,284.4 465,357.2 397.3,411.3 543.4,295.5 486.4,323.2 419.5,391.7 497.3,309 349.7,418 330.8,427 386.6,320.4 308.2,412.2 470.3,308.1 386.8,405.4 458,369.2 450.5,390.3 411.2,405.3 326.9,450.6 537.8,293.6 484.8,323.9 282.2,424.6 401.9,324.4 484.8,302.4 254.8,454.2 288,436.3 414.5,319.6 316.2,439.2 373.7,432.5 283.3,470.4 299.1,390.8 344.3,373.2 325.3,374.6 423.3,319 304.3,430 504,295.1 496.7,294.4 443.6,300.3 369.6,414.8 425.3,387.6 404,325.7 362.2,356.9 466.6,311.9 467.3,350.9 306.5,439 502.5,304.4 365.4,409.4 299.1,398 401.7,331.6 371.2,411.6 391.7,324.6 312.3,422.8 377.9,334.9 455.9,301.7 421.7,401 446.5,373.3 348.2,421.4 452.5,304.9 437.6,438.1 323.5,389.2 438.3,311.1 413.8,396.3 297.9,453.6 463.7,286.3 296.7,437.9 432.5,382.1 453.1,307.2 331.2,377.8 272,453.6 356.6,335.5 514.2,289.9 297.7,426.4 444.3,371.6 447.4,308.5 406.8,322.2 323.9,362.9 318.4,443.5 477.1,410 339.1,429 485.3,291.7 266.8,456.3 509,277.2 328.2,426.3 497.6,335.1 302,397.2 304.8,453.5 347.9,362.2 444.7,295.4 388.3,312 405.7,411.1 436.9,405.5 322.5,397.2 342.7,380.8 308.4,407 416.5,424 485.2,290.4 478.5,337.7 361.1,351.5 465.9,367.9 301.3,454 505.1,289.5 325.1,383.5 490.9,321.9 374.3,349.9 441.3,378.9 411.9,392.6 315.4,397.5 333.6,352.3 430.1,314.7 497.3,302.9 363,348.7 463.2,377.1 525.7,273.2 462.1,345.6 478.5,325.7 427.6,312.1 496.9,310.8 496.3,305.9 367.2,429.5 477.1,327.1 323,376.4 374.1,413.6 507.1,306.7 341.7,414.2 387.6,329.3 350.8,423.7 326.6,460.1 431.1,315.6 501.8,297.2 481.9,325.4 329.4,396.4 348.5,359.9 395.7,321.2 498.1,294.6 323,402.1 293.4,399.2 358.2,351 483.7,321 454.5,359.5 342.3,386.4 318.6,415.9 517.3,285.9 525.8,294.7 391.3,413.6 510.4,292.6 528.3,280 438.1,295 430.8,396.4 378.5,409.1 503.1,325.4 319.8,410.3 298.4,431.5 359.9,341.6 499.8,275.5 423.3,316.7 365.9,414.4 279.8,446.9 481.9,330.3 354.1,410.7 301.2,409.1 252.5,479.3 401.2,432.6 337.4,423.3 337.7,335.5 398.5,325.3 499.1,318.4 354.4,343.3 561.8,262.3 524.6,272.2 337.2,361.6 383.1,273.4 461.2,355.2 458.9,365 456.1,312 308.8,428.9 518.7,317.5 289.2,417.1 436.3,316.5 330.2,381.6 393.1,399.3 419.6,318 316,435.5 305,424.1 499,284.8 512,303.9 332.3,380.8 294.9,427.2 338.5,374.7 477.8,335.2 426,383.3 465.3,299.8 536.5,271.8 301.5,436.1 442.3,297.4 482.4,337.9 296.2,434.6 376.2,414 452.9,311.5 505.4,310.1 226.8,487.3 541.5,289.3 526.8,288.3 340,369.7 331,366.2 497.4,288.1 299.4,434.4 476.4,290.3 366.9,300.3 482.1,282.1 373.6,344.4 309.6,433.1 359.9,349.3 375.9,338.7 299.1,424.3 469,342.6 327.6,379.9 421.3,294 459.8,397.4 321.1,403.5 298.1,404.9 318.6,376.9 335.2,430.3 391.2,322.6 392.8,432.7 327.2,388.9 328.5,395.7 449.9,299.9 468.8,304.7 292.3,434.2 310.5,395.1 486.9,340.2 457.8,380.2 533.8,279.5 496.5,286.3 412.4,414.1 387.8,414 333.1,391.4 274.7,460.3 493.1,285.8 264.5,466 310.3,451 369.4,422.4 287.4,446.8 404.5,404.3 382.5,411.3 444.8,374.2 347.1,434.1 318.9,390.6 473.7,376.6 367.1,324.1 352.9,348.9 455.6,308.4 472.6,385.7 368.1,350 422.3,396.8 379.1,534 394.4,408.3 515.6,274.8 530.3,383.7 387.7,430.1 448.3,260.6 499.1,286.2 520.4,293.2 420.5,315.1 418.4,397.3 397.1,406.3 359.8,332.7 311.7,450.7 468.9,359.9 465.1,348.3 472.2,333.5 347.1,377.4 384.7,410.3 474.1,339.6 316.6,392.4 439.3,286 244.2,468.7 509.5,295.3 408.2,332.7 390.7,408.3 453.7,381.4 333.5,341.3 515.7,315 371,353.6 338.9,368.5 346.9,304.8 452.5,422.3 292.2,446.9 477.7,367.7 414.5,405.2 522.9,275.2 383.5,336.8 407.3,318 408.2,408.2 358.3,341.1 328.2,403.1 535.5,276.2 475.4,379.1 491.8,289.4 435.8,305.9 489.1,351.5 372,341.2 309.9,443.2 400.6,423.1 381.2,419.3 366,328.7 176.7,519.8 474.6,305 447.6,305.5 373.5,315.4 345.8,444.7 360.7,424.6 472.8,371.7 417.5,322.1 362.6,292.4 379,323.5 402.2,413.8 427.4,307.5 399.8,412.1 526.4,286.4 419.7,394.2 307.7,422.2 520.8,283.6 441.8,303.5 343.8,366.3 343.4,370.7 511.8,303 236.6,468.4 498.6,316.6 436.1,394.3 480.9,350.9 279.9,437.8 495.2,327.8 431.7,397.1 525.6,343.9 488.4,401 479.4,361.7 351.1,430.7 469.6,347.3 487.2,367 399.5,403.9 346.2,426.4 454.2,276.3 439.8,308.3 318.2,405.8 439.7,314.2 330,385.1 417.9,401.1 420.1,324.8 382.1,338 482.5,335.6 345,422.7 544,264.5 510,387.2 521.1,291.8 380.6,433.7 466.1,393.4 429.9,391.4 487.5,332.3 326,374.2 384.5,311.1 628,341.8 473.8,301.3 489.4,339.9 416.9,394.2 350.1,352.9 275.7,346.7 396.5,427.1 441.8,385.9 362.7,334.4 396.5,408.4 394.4,301.5 504.3,298 611.5,289.1 415,402.2 361,345.5 495.8,316.8 441,314.5 347,430.2 521.5,302.1 549.7,263.5 448.6,370.8 410.6,408.5 487.5,324.1 286.8,439.2 428.3,385.5 311.7,374.7 317.2,309.7 332.2,435.4 361.9,421.9 466.6,361.3 513.1,294 501.8,326.7 468.3,298.3 486.6,315.2 525.6,277.8 482.7,347.3 301,446.7 317.3,437.5 444.9,303.2 334.6,429.6 506.4,316 399.9,405.1 386.4,325.6 368,348.6 482.8,324.8 378.3,329.4 279.4,447.7 330.7,361 392.9,405.1 336.4,374.3 507.1,330.6 297.2,424.1 403.8,318.5 293.6,414.3 374.8,424.9 376.2,335.2 428.8,399.7 464.1,300.8 492.9,273.2 241.6,481.6 516.6,299.1 453.1,375.9 309.6,422.8 451.1,388 501.5,349.3 494.9,352 477.3,350.7 388.3,332.8 368.3,406.6 507.7,305.7 441.9,309.6 336,338.3 347.6,355.5 335,374.6 294.8,407.2 283.3,447.1 305.7,401.7 363,422.1 431.5,309.4 473,356.9 349.9,351.1 520.4,276.4 360.3,323.6 521.3,295.2 451.3,301.1 523.3,382 459.1,366.4 287.5,430.1 306.1,408.5 306.5,442 482.2,327.6 268.5,424.4 454.1,291.8 272.4,396.4 391.3,407.3 469.4,367.4 501.6,311.8 344.5,344.9 379.3,338.7 401,315.6 377.9,418.5 328.9,424.8 546.1,306.6 520.5,309.9 407.1,420.9 470.9,348.6 533.6,274.5 530.6,271.5 538,280.3 371.3,335.5 463.7,360.6 410.8,309.5 468.4,362.3 472.9,439.5 553.6,261.6 524.5,258.8 383,296.3 368.4,427.6 467.9,300.9 459.8,392.1 487.4,346 422,323.9 354.9,361.4 479.6,289.8 400.5,320.4 393.9,283.7 502.9,281.3 286.1,430.7 361,414.7 436.8,404.1 393,311.3 506.1,302.4 271.6,452.3 352.3,354.5 583.2,227.5 473.9,368.4 509.6,290.2 338.5,424.3 369.5,325.3 341.1,362.4 492,329.2 407.2,416.4 451.7,410.7 423.9,386 424.4,310.7 424.2,402 460.3,403.3 393.8,326.2 284.6,446.7 540.3,263.2 384.2,295.2 300.4,456.1 443.2,308.9 558.9,282.5 263.7,462.2 470.5,302.3 475.7,354.7 545.7,267.8 276.8,460 448.5,299.8 424.5,399.2 510.9,325.9 315.9,357.5 412.4,404.3 345.5,351.2 442.1,394.7 366.2,340.7 327.1,440.2 488.2,288.2 484.9,352.3 507.2,309.3 529.9,254.1 476.5,382 436.4,389.8 492.4,314 502.4,283 263.6,459 543.9,255 285.7,432.4 284.4,368.4 496.9,284.9 335.4,347.7 336.5,432.6 331.6,316.3 500.1,314.7 515.2,280 358.4,350.1 265.8,456.7 515,272.1 495.4,346.9 409,313.5 297.6,351.2 381.7,283.3 457.2,410.5 436.7,381.5 527.2,301.3 435.4,391.6 242.1,447.2 284.5,437.6 470.6,339.6 256.9,441.9 330.4,380.4 429.9,295.3 517,293.5 455.2,368.7 445.7,381.5 269.2,466.7 435.9,312.9 303.5,387.8 447.1,395.6 325.9,399 472.3,298.2 412.8,299.4 590,237 220.3,490.4 546.2,264.1 279,454.1 432,391.7 499.4,360.1 389.9,292 241.9,477.6 462.7,379.2 417.3,415.2 485.6,327.8 566,264.3 560.5,271.4 271.8,439.6 417.7,311.1 370.4,335.3 393.7,328.4 359.8,335 491.9,324.2 448.8,302.2 395.3,317.2 354.4,423 481.1,282.6 475.7,297 284.1,425.2 522.4,289.2 383.5,315.4 455.8,356.9 472.6,357.8 268.4,460.5 402.7,323.5 447.1,375.7 383.9,416 451.5,307.7 387.8,316.6 289.6,410.9 492.2,323.1 349.1,347.7 301.7,429 416.6,303.8 494.9,367 287.5,447.2 522.7,282 290.4,448.8 336.2,365.4 332.1,368.4 443.6,385.2 437.3,401.3 380,425.6 410.1,399.8 349.3,447.4 302.7,318.6 433,301.6 422.4,417.6 295.1,429.3 376.2,331.9 437.7,432.5 300.6,418.6 327.2,365.4 468.4,392.1 350.4,422.3 403,406.4 255.1,422.7 454.9,459.6 303.2,395.8 317.4,382.3 592.2,229.7 605.4,234.7 408.7,309.3 369.1,341.3 561.8,380.6 431.1,306.8 451.5,372.4 284.3,443.5 290.5,467.4 322,407 445.6,291.3 334.4,369.3 313.5,404.3 355.5,333 365.4,434.2 475.7,288.7 529.1,289 484.3,383.8 394.9,412.7 341,339.7 463.8,301.9 496.5,335.8 318.6,359 385.9,327.5 529.1,384.1 453.8,281.4 411.6,431.5 379.5,414.3 365.2,338 336.3,339.3 285,449.4 324.1,429 283.4,443.5 500.2,383.9 510,283 492.7,371.2 483.1,393.3 392.4,428.4 438.5,388.8 478.9,375.1 316.7,374.9 443,393.8 307.8,391.3 233.9,474.8 268.1,438 345.7,337.1 316.8,442.2 423.5,390.2 348.8,339.8 345.1,370.6 418.5,319 391.6,438.9 363,340.6 547.6,285.5 457.5,395.2 419.4,422.9 456.9,282.3 310.5,401.2 483.6,289 357.2,423.7 445.6,409.1 472.2,342.8 564.2,252.9 370.8,419.2 424.4,313.3 364.9,425 328.2,377.1 455.7,305 367.3,299.3 504.8,301.1 397.5,320.3 370.1,430.2 484,350.8 483.1,363.6 307.8,404.1 487.4,336.5 333.1,383.4 510.1,299.8 334.7,439.9 537.5,275.9 372.5,332.4 481.7,292.2 350.9,454 404.2,309.8 475.9,351.8 476.2,296 480.9,295.5 494.6,369.8 406.9,421.6 471,352.6 513.8,313.7 455,394.2 454.9,380.8 339.4,330.3 301.1,411.8 498.3,304.6 309.4,415.9 393.7,308.8 527,260.9 505.6,330.6 463.1,295.4 406.1,458.7 287.7,403.3 415,428.2 414.1,316.4 476.9,340.9 263.2,438.9 352,360.5 235.8,470.1 416.9,403.5 458.7,292 491.8,332.6 387.3,417 445.5,309.5 409.5,315.2 513.4,270.3 378.9,326.9 310,375.2 310.4,445.4 383.3,413.5 271.4,445.2 501.6,317.7 484.1,355.1 574.2,243.6 342.5,439 419.2,403.2 311.1,380.4 402.6,308.1 281.5,478.7 514.2,274.9 489,333.6 319.8,402.6 387.9,414.6 339,433.7 523.7,267 318.8,387.3 472.4,288.2 294.7,421.3 515.7,328.1 318,433.5 525.3,350.3 486.7,285.4 488.3,318.2 515,322 379.3,332 358.3,420 556.3,301.7 530.2,300.7 494.4,254.4 304.5,421.7 477.2,364 473.2,384.9 297.5,391.4 427.3,404.3 353.3,358.5 376.8,420.7 395.6,259.8 351.2,292.8 337.6,348.9 519.1,322.3 510,304.6 466.8,293.7 311.5,398.7 356.6,355.2 578,241.7 283,446.2 384,326.6 392.9,315.5 299.3,421.5 292.2,421.7 409.9,305 331.5,357.1 549.2,253.2 540.4,274 459.3,374 490.9,286.9 411.5,316.3 504,285.7 352.4,345.4 275,440.5 504.7,333.8 266.3,344.4 304.7,414.1 499.6,329.6 470,393.8 462.2,367 529.1,256.6 329.9,355.8 557.9,265.4 209.4,471.9 305.8,366.4 495.2,355.5 336.8,368.2 358.7,312.4 513.7,298.9 428.6,312 448.2,381.3 530,273.6 349,328.8 526.8,279.9 425.9,411.1 404.2,417.9 475.3,392.2 408.4,322.8 315.2,404.2 538.6,294.9 394.3,420.2 535.1,389.7 545.9,254.3 341.8,277 308.7,437.2 289.9,391 247.2,466.6 355.7,451.6 485.1,396 421.1,396.5 289.8,450.8 349.9,426.1 297.1,446.8 420.5,313.2 356.3,420.5 402.3,449 423.8,407.1 480.6,355.3 437.2,395.1 331,371.2 520.8,290.5 542.8,281.6 507.3,325.4 448.7,379.3 419,433.1 248.5,475.1 508.9,314.1 508,278.8 500.4,342.4 483.4,279.8 382.1,325.9 441,301.4 493.1,335.3 489.4,347.2 336.3,371.7 491.9,346.3 297.4,378.3 373.9,417.6 321.7,385.2 372.6,416.2 458.2,375.8 318.6,384.3 345,423.5 485.5,283.2 340.5,447.4 298.5,416.8 430.3,405.8 304.9,409.8 539.6,277.3 343.9,355 389.8,327.4 411.9,296.3 496.1,320.9 352.1,331.5 328.1,340 536,267.7 470,293.7 484.3,339.3 384.1,432.1 327.7,350.8 399.5,303.2 514.9,310.6 465.7,296.3 527.4,297.7 369.7,425.9 414.8,301.5 429.7,409.6 505.8,352.3 529.2,283 396.3,415.6 491.9,283.2 386.2,334.4 420.1,405.2 366.5,320.5 336.3,447.5 480.7,363.4 450.9,385.1 342.4,346.5 442,409.9 302.7,418.7 309.5,402.6 326.3,328 290.2,436.4 397.6,308.7 307.9,407.6 335.1,343.2 307,332.5 338.6,362.2 535.1,282.9 261.7,461.3 547.7,257.5 518,277.6 431.6,399.8 534.4,285.6 533.5,242 301.1,374.2 401.7,427.2 401.7,315 358.6,338.4 387.1,446.3 381.3,319.7 459.1,379.5 490,362.1 307.5,444.5 238.6,486.7 322.6,360 481.4,369.8 413.2,306.3 296.5,461.2 490.1,349.6 380.2,414.7 430.7,421.7 445.3,389 525.9,268.9 480.6,374.2 356.4,429 279.3,472.3 376.7,297.1 448.2,295.3 603.3,254.1 501.6,360.8 308.3,370.2 295.7,449.4 419.2,454.9 339.4,352.7 290.7,416.2 438.1,384.6 435.3,399.5 494,363.1 482,331.9 320.2,356.7 412.5,421.8 401.9,418.4 308.3,439.7 318.8,370.5 307.3,416.2 375.2,323.6 360.5,336.4 343.4,350.7 330.7,340.6 403.1,311.6 382.2,328.1 515.3,307.8 338.3,426.2 528,271.9 421.7,283.1 429.2,416.4 396,418.7 309.6,453.5 402.3,421.2 337.6,320 374.7,429.6 383.4,421.3 516,268.6 319.9,458 323.4,440.3 440.5,416.1 432.3,393.8 511.1,344.8 325.5,391.3 469.5,376.3 404.7,410.7 472,296.6 285,451 393.2,418.9 376.3,316.3 436.5,311.1 215.9,494.2 266.9,454.8 448.3,412.3 461.1,291.4 314.8,410.7 304.9,401.7 451.8,290.7 354.6,335.6 270.4,458 506.3,275.2 302.1,442.1 361.9,320.2 395.4,420.1 409.9,300.6 330.8,304.6 389.2,320.1 284.2,400.6 325.1,397.3 347.6,424.2 292.4,313.1 271.9,460.6 329.4,439.7 519.5,267.3 475.4,285.5 422.1,480.6 370.3,327.1 294.5,424.1 461.7,389.1 404.4,312.6 574.5,279.8 432.4,402.7 564.4,393.5 504.1,321.6 370.9,437.9 545.4,260.8 512.9,362.6 436.7,299 352.4,343.1 303.1,353.9 439.1,275.6 546.5,274.9 303.1,444.4 416.6,431.4 269.1,426.3 320.7,379.6 260,432.2 398.2,272.1 335.5,437.4 346.1,432.8 497.9,321.7 313.4,407.7 495.4,405.6 291.8,424.8 390.6,414 463.8,381.5 301.6,450.9 345.5,355.5 385.6,313.2 310.7,417.6 494.3,275.5 511.7,382.3 258.9,436.8 531.9,278.9 452.9,289 467.1,386.4 391.7,308.2 479.3,359.8 522.1,266.8 260,461.7 502.4,322.7 559.4,253.3 467,379.8 304.7,449.6 455.6,383.7 499.8,352.3 412.8,302.1 514.7,302.8 446.6,386 483.8,389.5 350.9,428.8 473.4,344.3 281.2,431 376.8,417.6 394.6,424.6 555.4,259.4 338.5,439 337.8,327.2 367.6,310 305.3,399 530,262 413.4,439.1 382.9,330.8 311.9,311.8 330.8,372.3 323,382 435.4,307 507.7,318.2 422.4,288 312.9,348.9 286.7,427.9 322.3,364.2 371.1,338 323,345.9 432,303 257.7,458 322.9,446 257.9,462 291.4,395.3 279.5,429.4 459.3,297.3 412.7,450.2 527.8,292.7 523,258.6 317.5,362.1 327.2,382.7 564.1,246.5 326.2,442.4 288.7,468.1 431.4,410.3 298.1,465.1 311,358.2 290.8,455.8 489.9,364.1 616.5,212.4 323.5,433.9 543.6,269 333.1,362.8 281.7,456.3 476.4,361.7 484,272.8 479.3,405.1 428.7,394.6 504.7,329.2 272,451 326.7,356.3 422.7,408.9 546.7,249.9 361.4,299.7 513.1,341.2 281.3,450 479.4,339.3 487.9,333 371.5,422.9 373.7,277.2 488.8,354.3 380,426.5 580.4,241.2 296.3,349.9 374.1,292 302.6,405 475.7,292.6 297.6,319.9 511.8,268.6 531.4,291.2 357,430.4 535.4,337.5 399.1,408.7 279.5,452.2 254,463.4 438.2,397.2 451.8,378.1 258.8,478.7 255.6,471.8 528.7,269.4 512.8,343.2 301.2,416.2 484.3,375.1 504.5,308.7 290.3,426.6 341,336.1 328.1,357.6 342.7,429.3 248.5,466 507.1,400.3 486.2,350.6 322.3,371.6 255.5,466.9 405.5,431.4 386.8,305.8 304.9,452.2 490.6,373 507.9,271.3 392.8,297.1 311.3,441.8 513.2,266.4 520.2,303 337.7,375.8 488,324.3 490.9,406.6 357.5,307.7 247.7,471.6 552.5,324.4 289.5,421.6 515.6,358.5 423.4,414.4 285.9,456 358.4,344.5 496,341.4 551.2,259.6 440.8,293.9 307.5,413.2 565.7,244.7 450.3,382.5 403.9,403.5 234,364 268.4,439.7 400.2,416.2 311.6,337.3 395.2,444.2 337.1,440.8 333.2,434.5 294.4,373.4 510.2,259 373.9,235.6 307.2,305.2 532.2,256.1 360.8,327.8 261.9,462.1 450,305.8 542.9,262.4 480.4,287.4 302,404 382.5,421.9 283,439.8 493.7,354 392.8,305.1 325.6,444.5 423.6,308.3 266.7,464.5 380.9,280.1 442.2,270.7 550.5,249.5 518.7,334.6 469.3,294.6 282,416.2 326.1,368.5 528.9,266.2 538.4,276.2 466.1,369.9 384.9,426.1 345.7,346.7 353.2,427.4 427.1,299.8 498.8,324.4 496.2,342.4 564.8,260.3 287,428.7 471.2,420.7 540.4,247.7 468.9,373.9 515.8,309.7 512.1,363.9 618.6,198.6 321.9,449.6 418.7,420.7 520.9,296 254.2,469.5 380.5,307.6 322.7,353.6 462.8,299.5 414.8,420.1 540.7,292.4 315.8,445.4 416.7,419.5 509.5,337.8 390.2,468.6 320.1,350 248.5,484.1 560.7,255.5 321.1,374.4 515.2,332.2 415.9,447.1 511.7,306.3 303.1,439.1 364.1,318.2 520.5,275.8 546.1,262.7 457.7,296.8 262.8,467.3 376.6,288.9 420.3,309.8 412,304.5 488,281.2 387,323.7 269.1,453.2 398.3,277.3 318.5,372.9 304.3,390.2 370.4,311.5 438.4,299.8 441.9,402.4 486.2,362.5 313.5,435.3 418.4,409.4 503,272.4 295.6,383.2 560.8,243.4 283.1,338.1 321.6,435.4 368.4,333 466.7,251.7 390.8,303.5 499.2,269.7 477.8,346.6 467.1,284.4 521.7,311 456.8,292.4 348,348.4 454.3,285.9 334,333 485.1,364 319.1,398.1 330,365.7 274.6,457.2 558.4,248.9 359.3,432.3 482.1,369.8 301.6,382 533.3,262 354,338.9 280.6,438.9 331.3,299.4 521.4,270.6 455.7,376.6 455.4,401.8 312.7,386.7 294.3,394.1 428.2,414 510.2,327.1 460.2,389.7 541.9,266.5 416.7,407.7 470.5,383 356.4,325.4 556.9,285.6 265.4,472.2 339.5,302 272,447.7 441.8,405.7 338.8,436.1 412,427.1 483.1,407 428.9,307.1 241.9,485.5 421.2,431.4 261.9,457.7 371.7,423.2 510.8,319.8 486.3,356.1 316.5,375.7 508.1,336.8 416.8,302.5 584.2,439.7 290.8,484 534,266.5 557.8,315.8 495.2,338.2 355.2,321.9 325.2,331.5 297.8,411.8 566.3,300.8 461.7,289.3 290.8,355 324.1,358.9 491.5,367.1 312,387.6 465.1,378 469,289.7 351.9,339.7 396,314.4 281.7,467.8 411.2,308.7 356.4,322.3 333.6,458.2 475.1,381.3 278,459 371.7,305.1 288.4,425.5 488.7,368.2 253.4,450.8 298.8,451.9 330.6,429.6 485.8,280.1 420,302.2 404.7,300.3 274,475.3 306.4,386.7 399.5,422.9 499.7,376.9 362.3,328.4 346.4,431.1 556.3,269.5 442.2,289.4 530.9,280.7 531.9,287.3 246,425.7 372.3,448.5 362.5,317.2 321,330.8 547.3,277.2 335.1,357.7 522.4,341.6 351.5,328.6 319.7,351.2 398.5,308.3 375.7,444.9 479.9,384.4 577.4,251 486.3,358.9 328.4,435.7 280.3,441.3 470.6,271.5 377.1,432.8 286.7,471.6 354,439.6 413.6,312.4 559.2,251.6 371.4,323.4 554.5,248.6 344.3,467.2 565.4,314.2 376.8,327.6 332.9,359 351.1,297.4 584.4,233.4 323.4,364 280.4,410.4 405,308.4 495.9,331.1 366.3,422.5 414.4,304.5 212.6,362.3 500.4,265.8 473.7,364.3 563.2,250.5 535.8,254.5 503.6,275.1 453.2,423.3 397.3,311.5 371,437.2 472.1,286.5 502.4,387.7 450.5,294.1 451,402.2 253.6,469.7 399.7,427.1 304,412.8 342.4,342.7 523.7,338.1 340.9,318.5 335,377.8 473.7,373.6 454.6,298.6 566.2,219.6 429.9,427.9 367.1,436.3 536,286.9 348.9,439.9 503.2,369.9 524.4,321.6 366.9,317.9 437.7,303.2 392.8,314.4 343.8,353.7 481.1,275.7 532.3,259.6 267.6,473.9 391.1,422 270.2,441.8 296.1,376.9 378.9,304.3 317.2,364.7 581.7,236.5 508.5,280.6 275.7,444.3 314.7,456.4 571.6,244.7 436.1,435.1 322.5,443.3 486.9,386.6 347.4,331.3 543.7,270.8 334.3,320 558.3,276 374.9,303.8 502.1,332.7 393.7,280.2 539.5,256.9 474.7,421.7 266,385.8 503,265.6 288.4,363 446.5,400.2 376.3,314.6 542.7,289.4 364.1,309.6 345.5,297.3 407.9,413.7 333.6,337.2 485.7,342.5 615.4,215.1 553.5,256.8 634.1,197.6 629.6,203.9 590.1,232.7 600.7,223.4 533.6,260.6 628.1,195.7 696.9,158.3 582.3,240.1 580.1,238.3 641.5,209.7 664.4,180.3 634.8,207.1 677.7,157.2 723.9,188 604.6,222.7 676,173.6 597.8,227.9 596.5,214 678.3,165.7 658.3,178.7 651.2,190.1 614.5,206.1 682.7,170.6 660.9,186.5 560.3,253.1 588.6,241.1 640.3,204.5 657.5,185 614.1,233.3 595.2,228.8 689.6,146.2 673.5,182.3 643.3,199.8 639,198.6 549.7,266.1 493.6,267.8 674,167.9 642.9,203.1 694.4,160.3 683.4,175.5 614.9,222.9 588.2,234.4 621.3,211.4 593.9,307.2 595.9,231.2 558.9,257.7 648.7,200.7 683.5,168.5 652.9,182.6 520.1,271.6 520.1,330.3 511.4,274.6 580.7,245.2 645.4,195.9 677,177.6 595,164.3 526.2,266.4 580.6,232.3 634.2,202.5 635.3,200 584.7,191.8 613.1,216.9 515.9,230.5 561.1,260.5 522.9,261.6 675.9,152.8 621.9,218.7 610.3,219.9 662.8,157.9 630.5,196 533,358.7 598.9,236.2 669.4,185.4 532.5,266.2 682.6,163.4 642.1,196 238.2,483.2 236.5,476.5 252.2,467.8 265.2,454 238.7,472.1 234.1,467.4 243.3,492 210.7,496.8 214.5,498.3 246.4,469.9 255.1,464.9 300.5,471.3 208.3,517.6 195,504.7 270.7,468.7 264.9,417.4 228.8,457 311.6,547.4 291.5,457.6 243.3,452.9 235.8,484.5 219.4,498.2 244.2,472.4 207.6,498.8 217.4,478.2 204,500.6 195.7,508 275.3,455.6 202.3,510.1 260.6,509.2 200.4,503.9 203.3,513.5 244.1,475.9 205.3,503 200,523.5 215.3,491.7 230.9,480.8 278.6,470 195.1,513.8 225.5,508.1 206.6,497 295.7,442.4 204.1,506.8 272.2,489.8 228.6,481.5 194.6,518.4 191,509.7 201.8,505.9 732.4,139.6 748.1,123 765.5,102.4 767.3,107.1 764.9,121.4 737.4,131.5 724,138.9 711.8,140.3 754.6,111.6 748.1,112.2 708.4,157.7 763.2,112.6 750.7,121.1 734.9,131.9 722.8,131.9 747.1,123.4 751,118 190.1,513 155.7,518.7 145.9,540 132.7,557.2 185.5,512 126.9,559.8 200.7,528.2 134.4,549.9 153.6,542.8 162,531.9 99.6,317 161.8,312.4 239,240.6 277.5,256.8 277.5,273.5 257.8,299.3 457.5,191 585,74.2 509.2,160.2 549.7,175.3 584,167.8 671,110.1 692.2,129.3 494,215.3 615.3,344 578.8,346 633.9,451.2 576.8,464.3 469.5,528.9 490,468.3 451.5,487.3 569.7,419.2 559.7,414.7 567.7,392.6 555.7,383.1 556.7,372.1 535.2,373.1 522.6,393.1 531.7,406.2 511.1,446.2 507.1,415.2 502.1,410.2 491.6,415.7 238.5,374 230,427 213,404 241,504 268,547 248,576 192,482 168,457 130,519 138,525 142,560" marker-start="url(#mb)" marker-mid="url(#mb)" marker-end="url(#mb)"/>
</g>
<rect x="1492.4" y="93" width="922.6" height="645.6" fill="none" stroke="#000" stroke-width="2"/>
<path d="M1624.2 738.6v-18M1624.2 93v18M1756 738.6v-18M1756 93v18M1887.8 738.6v-18M1887.8 93v18M2019.6 738.6v-18M2019.6 93v18M2151.4 738.6v-18M2151.4 93v18" stroke="#000" stroke-width="2" fill="none"/>
<path d="M1558.3 738.6v-9M1558.3 93v9M1690.1 738.6v-9M1690.1 93v9M1821.9 738.6v-9M1821.9 93v9M1953.7 738.6v-9M1953.7 93v9M2085.5 738.6v-9M2085.5 93v9M2217.3 738.6v-9M2217.3 93v9" stroke="#000" stroke-width="2" fill="none"/>
<path d="M1492.4 93h18M1492.4 185.2h18M1492.4 277.5h18M1492.4 369.7h18M1492.4 461.9h18M1492.4 554.1h18M1492.4 646.4h18M1492.4 738.6h18" stroke="#000" stroke-width="2" fill="none"/>
<path d="M1492.4 139.1h9M1492.4 231.3h9M1492.4 323.6h9M1492.4 415.8h9M1492.4 508h9M1492.4 600.3h9M1492.4 692.5h9" stroke="#000" stroke-width="2" fill="none"/>
<text y="113.2" font-size="38"><tspan x="1391.4">4</tspan><tspan x="1431.2">10</tspan><tspan x="1470" dy="-22.8" font-size="27">4</tspan></text>
<path d="M1415 91.2l21.9 21.9M1415 113l21.9 -21.9" stroke="#000" stroke-width="1.7" fill="none"/>
<text y="205.4" font-size="38"><tspan x="1391.4">3</tspan><tspan x="1431.2">10</tspan><tspan x="1470" dy="-22.8" font-size="27">4</tspan></text>
<path d="M1415 183.4l21.9 21.9M1415 205.3l21.9 -21.9" stroke="#000" stroke-width="1.7" fill="none"/>
<text y="297.7" font-size="38"><tspan x="1391.4">2</tspan><tspan x="1431.2">10</tspan><tspan x="1470" dy="-22.8" font-size="27">4</tspan></text>
<path d="M1415 275.6l21.9 21.9M1415 297.5l21.9 -21.9" stroke="#000" stroke-width="1.7" fill="none"/>
<text y="389.9" font-size="38"><tspan x="1391.4">1</tspan><tspan x="1431.2">10</tspan><tspan x="1470" dy="-22.8" font-size="27">4</tspan></text>
<path d="M1415 367.8l21.9 21.9M1415 389.7l21.9 -21.9" stroke="#000" stroke-width="1.7" fill="none"/>
<text x="1483.5" y="474.8" font-size="38" text-anchor="end">0</text>
<text y="574.3" font-size="38"><tspan x="1378.7">-1</tspan><tspan x="1431.2">10</tspan><tspan x="1470" dy="-22.8" font-size="27">4</tspan></text>
<path d="M1415 552.3l21.9 21.9M1415 574.2l21.9 -21.9" stroke="#000" stroke-width="1.7" fill="none"/>
<text y="666.6" font-size="38"><tspan x="1378.7">-2</tspan><tspan x="1431.2">10</tspan><tspan x="1470" dy="-22.8" font-size="27">4</tspan></text>
<path d="M1415 644.5l21.9 21.9M1415 666.4l21.9 -21.9" stroke="#000" stroke-width="1.7" fill="none"/>
<text y="758.8" font-size="38"><tspan x="1378.7">-3</tspan><tspan x="1431.2">10</tspan><tspan x="1470" dy="-22.8" font-size="27">4</tspan></text>
<path d="M1415 736.8l21.9 21.9M1415 758.6l21.9 -21.9" stroke="#000" stroke-width="1.7" fill="none"/>
<text y="790" font-size="38"><tspan x="1440.5">-3</tspan><tspan x="1493">10</tspan><tspan x="1531.8" dy="-22.8" font-size="27">4</tspan></text>
<path d="M1476.8 768l21.9 21.9M1476.8 789.8l21.9 -21.9" stroke="#000" stroke-width="1.7" fill="none"/>
<text y="790" font-size="38"><tspan x="1572.3">-2</tspan><tspan x="1624.8">10</tspan><tspan x="1663.6" dy="-22.8" font-size="27">4</tspan></text>
<path d="M1608.6 768l21.9 21.9M1608.6 789.8l21.9 -21.9" stroke="#000" stroke-width="1.7" fill="none"/>
<text y="790" font-size="38"><tspan x="1704.1">-1</tspan><tspan x="1756.6">10</tspan><tspan x="1795.4" dy="-22.8" font-size="27">4</tspan></text>
<path d="M1740.4 768l21.9 21.9M1740.4 789.8l21.9 -21.9" stroke="#000" stroke-width="1.7" fill="none"/>
<text x="1888.3" y="774.4" font-size="38" text-anchor="middle">0</text>
<text y="790" font-size="38"><tspan x="1974">1</tspan><tspan x="2013.9">10</tspan><tspan x="2052.7" dy="-22.8" font-size="27">4</tspan></text>
<path d="M1997.6 768l21.9 21.9M1997.6 789.8l21.9 -21.9" stroke="#000" stroke-width="1.7" fill="none"/>
<text y="790" font-size="38"><tspan x="2105.8">2</tspan><tspan x="2145.7">10</tspan><tspan x="2184.5" dy="-22.8" font-size="27">4</tspan></text>
<path d="M2129.4 768l21.9 21.9M2129.4 789.8l21.9 -21.9" stroke="#000" stroke-width="1.7" fill="none"/>
<text y="790" font-size="38"><tspan x="2237.6">3</tspan><tspan x="2277.5">10</tspan><tspan x="2316.3" dy="-22.8" font-size="27">4</tspan></text>
<path d="M2261.2 768l21.9 21.9M2261.2 789.8l21.9 -21.9" stroke="#000" stroke-width="1.7" fill="none"/>
<circle cx="1566.5" cy="165.3" r="1.95" fill="none" stroke="#f00" stroke-width="1.45"/>
<rect x="1563.7" y="206.4" width="5.6" height="5.6" fill="#00f"/>
<text x="1598.6" y="175.5" font-size="38.5" text-anchor="start">j = 1</text>
<text x="1598.6" y="219" font-size="38.5" text-anchor="start">j = 10</text>
<text class="s" transform="translate(1932.6 822.8) scale(1.08 1)" font-size="49">μ</text>
<text x="1967.8" y="840" font-size="32.5" font-style="italic">i</text>
<g transform="translate(1344 452.4) rotate(-90)"><text class="s" transform="scale(1.08 1)" font-size="49">μ</text><text x="33.8" y="19" font-size="33" letter-spacing="0.5" font-style="italic">i+j</text></g>
<g fill="none" stroke="#f00" stroke-width="1.6"><circle cx="2637.3" cy="738.6" r="2.85"/><circle cx="2743.9" cy="638.8" r="2.85"/><circle cx="2806.3" cy="598.8" r="2.85"/><circle cx="2850.5" cy="560.6" r="2.85"/><circle cx="2884.8" cy="539" r="2.85"/><circle cx="2912.9" cy="519.5" r="2.85"/><circle cx="2936.6" cy="501.7" r="2.85"/><circle cx="2957.1" cy="485.2" r="2.85"/><circle cx="2975.2" cy="475.1" r="2.85"/><circle cx="2991.4" cy="461.6" r="2.85"/><circle cx="3006.1" cy="450.8" r="2.85"/><circle cx="3019.5" cy="440.7" r="2.85"/><circle cx="3031.8" cy="429.2" r="2.85"/><circle cx="3043.2" cy="421.3" r="2.85"/><circle cx="3053.8" cy="417" r="2.85"/><circle cx="3063.7" cy="409.2" r="2.85"/><circle cx="3073" cy="403.4" r="2.85"/><circle cx="3081.8" cy="398.3" r="2.85"/><circle cx="3090.2" cy="390.5" r="2.85"/><circle cx="3098" cy="387.3" r="2.85"/><circle cx="3105.5" cy="382.1" r="2.85"/><circle cx="3112.7" cy="376.6" r="2.85"/><circle cx="3119.5" cy="371.3" r="2.85"/><circle cx="3126.1" cy="367.2" r="2.85"/><circle cx="3132.4" cy="362.8" r="2.85"/><circle cx="3138.4" cy="358.5" r="2.85"/><circle cx="3144.2" cy="355.4" r="2.85"/><circle cx="3149.8" cy="349.7" r="2.85"/><circle cx="3155.2" cy="346.6" r="2.85"/><circle cx="3160.4" cy="344.1" r="2.85"/><circle cx="3165.4" cy="341.2" r="2.85"/><circle cx="3170.3" cy="338.8" r="2.85"/><circle cx="3175.1" cy="334.9" r="2.85"/><circle cx="3179.7" cy="333.3" r="2.85"/><circle cx="3184.1" cy="330" r="2.85"/><circle cx="3188.4" cy="327.7" r="2.85"/><circle cx="3192.7" cy="324.4" r="2.85"/><circle cx="3196.8" cy="321.7" r="2.85"/><circle cx="3200.8" cy="318.5" r="2.85"/><circle cx="3204.6" cy="315.6" r="2.85"/><circle cx="3208.4" cy="313.7" r="2.85"/><circle cx="3212.2" cy="312.8" r="2.85"/><circle cx="3215.8" cy="308.5" r="2.85"/><circle cx="3219.3" cy="306.8" r="2.85"/><circle cx="3222.8" cy="305.4" r="2.85"/><circle cx="3226.1" cy="302.9" r="2.85"/><circle cx="3229.5" cy="301.2" r="2.85"/><circle cx="3232.7" cy="300.1" r="2.85"/><circle cx="3235.9" cy="297" r="2.85"/><circle cx="3239" cy="294.3" r="2.85"/><circle cx="3242" cy="293" r="2.85"/><circle cx="3245" cy="292.5" r="2.85"/><circle cx="3247.9" cy="290.9" r="2.85"/><circle cx="3250.8" cy="287.3" r="2.85"/><circle cx="3253.6" cy="285.7" r="2.85"/><circle cx="3256.4" cy="284.3" r="2.85"/><circle cx="3259.1" cy="282.7" r="2.85"/><circle cx="3261.8" cy="282.3" r="2.85"/><circle cx="3264.4" cy="279.3" r="2.85"/><circle cx="3267" cy="279" r="2.85"/><circle cx="3269.6" cy="277.5" r="2.85"/><circle cx="3272.1" cy="275.5" r="2.85"/><circle cx="3274.5" cy="274.7" r="2.85"/><circle cx="3276.9" cy="271.7" r="2.85"/><circle cx="3279.3" cy="271.5" r="2.85"/><circle cx="3281.7" cy="269.1" r="2.85"/><circle cx="3284" cy="267.9" r="2.85"/><circle cx="3286.3" cy="266.2" r="2.85"/><circle cx="3288.5" cy="265.1" r="2.85"/><circle cx="3290.7" cy="263.2" r="2.85"/><circle cx="3292.9" cy="262.8" r="2.85"/><circle cx="3295.1" cy="261.3" r="2.85"/><circle cx="3297.2" cy="260.2" r="2.85"/><circle cx="3299.3" cy="258.4" r="2.85"/><circle cx="3301.3" cy="257.8" r="2.85"/><circle cx="3303.4" cy="255.8" r="2.85"/><circle cx="3305.4" cy="255.6" r="2.85"/><circle cx="3307.4" cy="254.1" r="2.85"/><circle cx="3309.3" cy="252.7" r="2.85"/><circle cx="3311.3" cy="251.9" r="2.85"/><circle cx="3313.2" cy="250.6" r="2.85"/><circle cx="3315.1" cy="248.7" r="2.85"/><circle cx="3316.9" cy="248.1" r="2.85"/><circle cx="3318.8" cy="247.2" r="2.85"/><circle cx="3320.6" cy="245.4" r="2.85"/><circle cx="3322.4" cy="244.6" r="2.85"/><circle cx="3324.2" cy="243.4" r="2.85"/><circle cx="3325.9" cy="242.1" r="2.85"/><circle cx="3327.7" cy="241.2" r="2.85"/><circle cx="3329.4" cy="240.6" r="2.85"/><circle cx="3331.1" cy="239.8" r="2.85"/><circle cx="3332.8" cy="238.3" r="2.85"/><circle cx="3334.4" cy="237.1" r="2.85"/><circle cx="3336.1" cy="236" r="2.85"/><circle cx="3337.7" cy="235.6" r="2.85"/><circle cx="3339.3" cy="234.2" r="2.85"/><circle cx="3340.9" cy="233" r="2.85"/><circle cx="3342.5" cy="232.6" r="2.85"/><circle cx="3344" cy="231.6" r="2.85"/><circle cx="3345.6" cy="230.6" r="2.85"/><circle cx="3347.1" cy="229.5" r="2.85"/><circle cx="3348.6" cy="228.3" r="2.85"/><circle cx="3350.1" cy="227.7" r="2.85"/><circle cx="3351.6" cy="226.6" r="2.85"/><circle cx="3353.1" cy="225.8" r="2.85"/><circle cx="3354.5" cy="225.1" r="2.85"/><circle cx="3356" cy="224.3" r="2.85"/><circle cx="3357.4" cy="223.4" r="2.85"/><circle cx="3358.8" cy="222.3" r="2.85"/><circle cx="3360.2" cy="221.8" r="2.85"/><circle cx="3361.6" cy="221" r="2.85"/><circle cx="3363" cy="220.1" r="2.85"/><circle cx="3364.4" cy="219" r="2.85"/><circle cx="3365.7" cy="218.3" r="2.85"/><circle cx="3367.1" cy="217.6" r="2.85"/><circle cx="3368.4" cy="216.7" r="2.85"/><circle cx="3369.7" cy="216" r="2.85"/><circle cx="3371" cy="215.1" r="2.85"/><circle cx="3372.3" cy="214.1" r="2.85"/><circle cx="3373.6" cy="213.5" r="2.85"/><circle cx="3374.9" cy="212.7" r="2.85"/><circle cx="3376.2" cy="212.1" r="2.85"/><circle cx="3377.4" cy="211.2" r="2.85"/><circle cx="3378.7" cy="210.6" r="2.85"/><circle cx="3379.9" cy="209.8" r="2.85"/><circle cx="3381.1" cy="208.7" r="2.85"/><circle cx="3382.3" cy="208" r="2.85"/><circle cx="3383.5" cy="207.3" r="2.85"/><circle cx="3384.7" cy="206.8" r="2.85"/><circle cx="3385.9" cy="206" r="2.85"/><circle cx="3387.1" cy="205.1" r="2.85"/><circle cx="3388.3" cy="204.5" r="2.85"/><circle cx="3389.4" cy="203.6" r="2.85"/><circle cx="3390.6" cy="202.9" r="2.85"/><circle cx="3391.7" cy="202.6" r="2.85"/><circle cx="3392.9" cy="201.7" r="2.85"/><circle cx="3394" cy="201" r="2.85"/><circle cx="3395.1" cy="200.4" r="2.85"/><circle cx="3396.2" cy="199.7" r="2.85"/><circle cx="3397.3" cy="199" r="2.85"/><circle cx="3398.4" cy="198.4" r="2.85"/><circle cx="3399.5" cy="197.8" r="2.85"/><circle cx="3400.6" cy="196.9" r="2.85"/><circle cx="3401.7" cy="196.2" r="2.85"/><circle cx="3402.7" cy="195.8" r="2.85"/><circle cx="3403.8" cy="195" r="2.85"/><circle cx="3404.8" cy="194.4" r="2.85"/><circle cx="3405.9" cy="193.9" r="2.85"/><circle cx="3406.9" cy="193.3" r="2.85"/><circle cx="3407.9" cy="192.5" r="2.85"/><circle cx="3409" cy="192" r="2.85"/><circle cx="3410" cy="191.3" r="2.85"/><circle cx="3411" cy="190.7" r="2.85"/><circle cx="3412" cy="190" r="2.85"/><circle cx="3413" cy="189.5" r="2.85"/><circle cx="3414" cy="188.9" r="2.85"/><circle cx="3415" cy="188.2" r="2.85"/><circle cx="3415.9" cy="187.6" r="2.85"/><circle cx="3416.9" cy="187" r="2.85"/><circle cx="3417.9" cy="186.6" r="2.85"/><circle cx="3418.8" cy="185.8" r="2.85"/><circle cx="3419.8" cy="185.3" r="2.85"/><circle cx="3420.7" cy="184.7" r="2.85"/><circle cx="3421.7" cy="184.1" r="2.85"/><circle cx="3422.6" cy="183.6" r="2.85"/><circle cx="3423.5" cy="183" r="2.85"/><circle cx="3424.4" cy="182.4" r="2.85"/><circle cx="3425.4" cy="181.9" r="2.85"/></g>
<path d="M2633.3 734.6h8v8h-8zM2739.9 634.8h8v8h-8zM2802.3 576.7h8v8h-8zM2846.5 550.1h8v8h-8zM2880.8 523.5h8v8h-8zM2908.9 503.3h8v8h-8zM2932.6 487.7h8v8h-8zM2953.1 469.7h8v8h-8zM2971.2 461.1h8v8h-8zM2987.4 441.8h8v8h-8zM3002.1 434.6h8v8h-8zM3015.5 427.4h8v8h-8zM3027.8 417.3h8v8h-8zM3039.2 410.9h8v8h-8zM3049.8 406.6h8v8h-8zM3059.7 400.2h8v8h-8zM3069 395.1h8v8h-8zM3077.8 388.6h8v8h-8zM3086.2 381.4h8v8h-8zM3094 376.3h8v8h-8zM3101.5 371.7h8v8h-8zM3108.7 369h8v8h-8zM3115.5 364.8h8v8h-8zM3122.1 361h8v8h-8zM3128.4 356.9h8v8h-8zM3134.4 354h8v8h-8zM3140.2 350.4h8v8h-8zM3145.8 343.9h8v8h-8zM3151.2 340.7h8v8h-8zM3156.4 340.6h8v8h-8zM3161.4 338.5h8v8h-8zM3166.3 335.3h8v8h-8zM3171.1 331h8v8h-8zM3175.7 328.4h8v8h-8zM3180.1 328.6h8v8h-8zM3184.4 324.5h8v8h-8zM3188.7 324.1h8v8h-8zM3192.8 320.3h8v8h-8zM3196.8 317.8h8v8h-8zM3200.6 314.8h8v8h-8zM3204.4 315h8v8h-8zM3208.2 311.4h8v8h-8zM3211.8 309.4h8v8h-8zM3215.3 307.4h8v8h-8zM3218.8 308.1h8v8h-8zM3222.1 305.1h8v8h-8zM3225.5 302h8v8h-8zM3228.7 301.8h8v8h-8zM3231.9 299.1h8v8h-8zM3235 298.2h8v8h-8zM3238 296h8v8h-8zM3241 295.1h8v8h-8zM3243.9 294.6h8v8h-8zM3246.8 293h8v8h-8zM3249.6 291.4h8v8h-8zM3252.4 289.7h8v8h-8zM3255.1 286.7h8v8h-8zM3257.8 286h8v8h-8zM3260.4 284.3h8v8h-8zM3263 283.5h8v8h-8zM3265.6 282h8v8h-8zM3268.1 280.4h8v8h-8zM3270.5 278.9h8v8h-8zM3272.9 277.7h8v8h-8zM3275.3 276.6h8v8h-8zM3277.7 276.6h8v8h-8zM3280 274.9h8v8h-8zM3282.3 274.3h8v8h-8zM3284.5 272.3h8v8h-8zM3286.7 270.7h8v8h-8zM3288.9 270.7h8v8h-8zM3291.1 269.4h8v8h-8zM3293.2 268h8v8h-8zM3295.3 267.1h8v8h-8zM3297.3 265.2h8v8h-8zM3299.4 264.7h8v8h-8zM3301.4 263.3h8v8h-8zM3303.4 262.5h8v8h-8zM3305.3 261.3h8v8h-8zM3307.3 259.9h8v8h-8zM3309.2 258.9h8v8h-8zM3311.1 258.9h8v8h-8zM3312.9 257h8v8h-8zM3314.8 256.7h8v8h-8zM3316.6 256h8v8h-8zM3318.4 254.7h8v8h-8zM3320.2 253.6h8v8h-8zM3321.9 252.3h8v8h-8zM3323.7 252h8v8h-8zM3325.4 251.4h8v8h-8zM3327.1 249.7h8v8h-8zM3328.8 249.5h8v8h-8zM3330.4 248.3h8v8h-8zM3332.1 247.1h8v8h-8zM3333.7 246.6h8v8h-8zM3335.3 245.8h8v8h-8zM3336.9 244.6h8v8h-8zM3338.5 244.5h8v8h-8zM3340 243.2h8v8h-8zM3341.6 242.5h8v8h-8zM3343.1 241.3h8v8h-8zM3344.6 240.6h8v8h-8zM3346.1 240.4h8v8h-8zM3347.6 239.5h8v8h-8zM3349.1 238.5h8v8h-8zM3350.5 237.6h8v8h-8zM3352 237.1h8v8h-8zM3353.4 236.3h8v8h-8zM3354.8 235.2h8v8h-8zM3356.2 234.5h8v8h-8zM3357.6 234.1h8v8h-8zM3359 233.1h8v8h-8zM3360.4 232.7h8v8h-8zM3361.7 232.1h8v8h-8zM3363.1 231.2h8v8h-8zM3364.4 230.4h8v8h-8zM3365.7 229.6h8v8h-8zM3367 228.9h8v8h-8zM3368.3 228.3h8v8h-8zM3369.6 227.6h8v8h-8zM3370.9 227h8v8h-8zM3372.2 226.3h8v8h-8zM3373.4 225.6h8v8h-8zM3374.7 224.9h8v8h-8zM3375.9 224.5h8v8h-8zM3377.1 224h8v8h-8zM3378.3 223.3h8v8h-8zM3379.5 222.7h8v8h-8zM3380.7 222h8v8h-8zM3381.9 221.2h8v8h-8zM3383.1 220.9h8v8h-8zM3384.3 220.1h8v8h-8zM3385.4 219.4h8v8h-8zM3386.6 219h8v8h-8zM3387.7 218.4h8v8h-8zM3388.9 217.8h8v8h-8zM3390 217.2h8v8h-8zM3391.1 216.4h8v8h-8zM3392.2 216h8v8h-8zM3393.3 215.4h8v8h-8zM3394.4 214.7h8v8h-8zM3395.5 214.1h8v8h-8zM3396.6 213.6h8v8h-8zM3397.7 212.9h8v8h-8zM3398.7 212.6h8v8h-8zM3399.8 211.8h8v8h-8zM3400.8 211.4h8v8h-8zM3401.9 210.9h8v8h-8zM3402.9 210.2h8v8h-8zM3403.9 209.7h8v8h-8zM3405 209.1h8v8h-8zM3406 208.8h8v8h-8zM3407 208.2h8v8h-8zM3408 207.7h8v8h-8zM3409 207.1h8v8h-8zM3410 206.7h8v8h-8zM3411 206.2h8v8h-8zM3411.9 205.6h8v8h-8zM3412.9 205.1h8v8h-8zM3413.9 204.5h8v8h-8zM3414.8 204.1h8v8h-8zM3415.8 203.6h8v8h-8zM3416.7 203.1h8v8h-8zM3417.7 202.6h8v8h-8zM3418.6 202h8v8h-8zM3419.5 201.6h8v8h-8zM3420.4 201.1h8v8h-8zM3421.4 200.7h8v8h-8z" fill="#00f"/>
<rect x="2637.3" y="92.6" width="923" height="646" fill="none" stroke="#000" stroke-width="2"/>
<path d="M2791.1 738.6v-18M2791.1 92.6v18M2944.9 738.6v-18M2944.9 92.6v18M3098.7 738.6v-18M3098.7 92.6v18M3252.5 738.6v-18M3252.5 92.6v18M3406.3 738.6v-18M3406.3 92.6v18" stroke="#000" stroke-width="2" fill="none"/>
<path d="M2714.2 738.6v-9M2714.2 92.6v9M2868 738.6v-9M2868 92.6v9M3021.8 738.6v-9M3021.8 92.6v9M3175.6 738.6v-9M3175.6 92.6v9M3329.4 738.6v-9M3329.4 92.6v9" stroke="#000" stroke-width="2" fill="none"/>
<path d="M2637.3 738.6h18M2637.3 595h18M2637.3 451.5h18M2637.3 307.9h18M2637.3 164.4h18" stroke="#000" stroke-width="2" fill="none"/>
<path d="M2637.3 666.8h9M2637.3 523.3h9M2637.3 379.7h9M2637.3 236.2h9" stroke="#000" stroke-width="2" fill="none"/>
<text x="2630" y="756.1" font-size="50.5" text-anchor="end">0</text>
<text x="2630" y="612.5" font-size="50.5" text-anchor="end">2</text>
<text x="2630" y="469" font-size="50.5" text-anchor="end">4</text>
<text x="2630" y="325.4" font-size="50.5" text-anchor="end">6</text>
<text x="2630" y="181.9" font-size="50.5" text-anchor="end">8</text>
<text x="2637.6" y="783.5" font-size="50.5" text-anchor="middle">0</text>
<text x="2791.4" y="783.5" font-size="50.5" text-anchor="middle">1</text>
<text x="2945.2" y="783.5" font-size="50.5" text-anchor="middle">2</text>
<text x="3099" y="783.5" font-size="50.5" text-anchor="middle">3</text>
<text x="3252.8" y="783.5" font-size="50.5" text-anchor="middle">4</text>
<text x="3406.6" y="783.5" font-size="50.5" text-anchor="middle">5</text>
<circle cx="2711.1" cy="171.4" r="2.85" fill="none" stroke="#f00" stroke-width="1.6"/>
<rect x="2707.1" y="223.1" width="8" height="8" fill="#00f"/>
<text x="2744.6" y="183.6" font-size="52" text-anchor="start">j = 1</text>
<text x="2744.6" y="239.8" font-size="52" text-anchor="start">j = 10</text>
<text x="2972.5" y="837.8" font-size="72" style="fill:#231f20">L<tspan font-size="65" style="fill:#000">og(1/ε<tspan font-style="italic">)</tspan></tspan></text>
<g transform="translate(2578.1 526) rotate(-90)"><text x="0" y="0" font-size="72" style="fill:#231f20">L<tspan font-size="65" style="fill:#000">og(N)</tspan></text></g>
</svg></body></html>
